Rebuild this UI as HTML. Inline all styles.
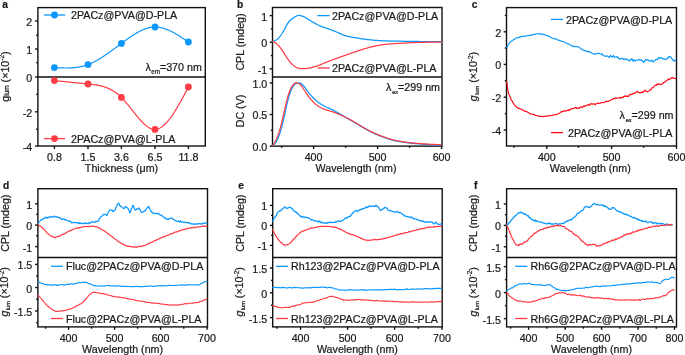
<!DOCTYPE html>
<html><head><meta charset="utf-8"><style>
html,body{margin:0;padding:0;background:#fff;}
body{width:685px;height:355px;overflow:hidden;}
svg{display:block;font-family:"Liberation Sans",sans-serif;fill:#1a1a1a;will-change:transform;filter:blur(0.25px);}
text{stroke:#1a1a1a;stroke-width:0.22px;}
</style></head><body>
<svg width="685" height="355" viewBox="0 0 685 355">
<text x="2.3" y="7.8" font-size="10.2" text-anchor="start" font-weight="bold" >a</text>
<rect x="37.9" y="7.6" width="167.4" height="138.4" fill="none" stroke="#111" stroke-width="1.4"/>
<line x1="37.9" y1="77" x2="205.3" y2="77" stroke="#111" stroke-width="1.4"/>
<line x1="35.1" y1="21" x2="37.9" y2="21" stroke="#111" stroke-width="1.4"/>
<line x1="35.1" y1="49" x2="37.9" y2="49" stroke="#111" stroke-width="1.4"/>
<line x1="35.1" y1="77" x2="37.9" y2="77" stroke="#111" stroke-width="1.4"/>
<line x1="35.1" y1="111.8" x2="37.9" y2="111.8" stroke="#111" stroke-width="1.4"/>
<line x1="35.1" y1="146" x2="37.9" y2="146" stroke="#111" stroke-width="1.4"/>
<line x1="36.199999999999996" y1="35.2" x2="37.9" y2="35.2" stroke="#111" stroke-width="1.4"/>
<line x1="36.199999999999996" y1="62.6" x2="37.9" y2="62.6" stroke="#111" stroke-width="1.4"/>
<line x1="36.199999999999996" y1="94.4" x2="37.9" y2="94.4" stroke="#111" stroke-width="1.4"/>
<line x1="36.199999999999996" y1="129.3" x2="37.9" y2="129.3" stroke="#111" stroke-width="1.4"/>
<text x="32.3" y="25.9" font-size="10.7" text-anchor="end" font-weight="normal" >2</text>
<text x="32.3" y="53.9" font-size="10.7" text-anchor="end" font-weight="normal" >1</text>
<text x="32.3" y="81.9" font-size="10.7" text-anchor="end" font-weight="normal" >0</text>
<text x="32.3" y="116.7" font-size="10.7" text-anchor="end" font-weight="normal" >-2</text>
<text x="32.3" y="150.9" font-size="10.7" text-anchor="end" font-weight="normal" >-4</text>
<line x1="54.4" y1="146" x2="54.4" y2="148.9" stroke="#111" stroke-width="1.4"/>
<line x1="88" y1="146" x2="88" y2="148.9" stroke="#111" stroke-width="1.4"/>
<line x1="121.4" y1="146" x2="121.4" y2="148.9" stroke="#111" stroke-width="1.4"/>
<line x1="155" y1="146" x2="155" y2="148.9" stroke="#111" stroke-width="1.4"/>
<line x1="188.4" y1="146" x2="188.4" y2="148.9" stroke="#111" stroke-width="1.4"/>
<text x="54.4" y="161.0" font-size="10.7" text-anchor="middle" font-weight="normal" >0.8</text>
<text x="88" y="161.0" font-size="10.7" text-anchor="middle" font-weight="normal" >1.5</text>
<text x="121.4" y="161.0" font-size="10.7" text-anchor="middle" font-weight="normal" >3.6</text>
<text x="155" y="161.0" font-size="10.7" text-anchor="middle" font-weight="normal" >6.5</text>
<text x="188.4" y="161.0" font-size="10.7" text-anchor="middle" font-weight="normal" >11.8</text>
<text x="121.5" y="171.5" font-size="10.7" text-anchor="middle" font-weight="normal" >Thickness (μm)</text>
<text transform="translate(4.6,76.6) rotate(-90)" font-size="10.7" text-anchor="middle" dominant-baseline="central">g<tspan font-size="6.5" dy="1.5">lum</tspan><tspan dy="-1.5"> (×10</tspan><tspan font-size="6.5" dy="-3.5">-2</tspan><tspan dy="3.5">)</tspan></text>
<path d="M54.40,67.60 L54.90,67.63 L55.40,67.65 L55.90,67.68 L56.40,67.70 L56.90,67.73 L57.40,67.75 L57.90,67.77 L58.40,67.80 L58.90,67.82 L59.40,67.84 L59.90,67.86 L60.40,67.88 L60.90,67.90 L61.40,67.91 L61.90,67.93 L62.40,67.94 L62.90,67.96 L63.40,67.97 L63.90,67.98 L64.40,67.98 L64.90,67.99 L65.40,67.99 L65.90,68.00 L66.40,68.00 L66.90,67.99 L67.40,67.99 L67.90,67.98 L68.40,67.97 L68.90,67.96 L69.40,67.94 L69.90,67.93 L70.40,67.91 L70.90,67.88 L71.40,67.86 L71.90,67.83 L72.40,67.79 L72.90,67.76 L73.40,67.72 L73.90,67.67 L74.40,67.62 L74.90,67.57 L75.40,67.52 L75.90,67.46 L76.40,67.40 L76.90,67.33 L77.40,67.26 L77.90,67.18 L78.40,67.10 L78.90,67.02 L79.40,66.93 L79.90,66.84 L80.40,66.74 L80.90,66.64 L81.40,66.53 L81.90,66.42 L82.40,66.30 L82.90,66.18 L83.40,66.05 L83.90,65.91 L84.40,65.77 L84.90,65.63 L85.40,65.48 L85.90,65.32 L86.40,65.16 L86.90,64.99 L87.40,64.82 L87.90,64.64 L88.40,64.45 L88.90,64.26 L89.40,64.06 L89.90,63.85 L90.40,63.64 L90.90,63.43 L91.40,63.20 L91.90,62.98 L92.40,62.74 L92.90,62.50 L93.40,62.26 L93.90,62.01 L94.40,61.76 L94.90,61.50 L95.40,61.24 L95.90,60.97 L96.40,60.69 L96.90,60.42 L97.40,60.13 L97.90,59.85 L98.40,59.56 L98.90,59.26 L99.40,58.96 L99.90,58.66 L100.40,58.35 L100.90,58.04 L101.40,57.73 L101.90,57.41 L102.40,57.09 L102.90,56.77 L103.40,56.44 L103.90,56.11 L104.40,55.78 L104.90,55.44 L105.40,55.10 L105.90,54.76 L106.40,54.42 L106.90,54.07 L107.40,53.72 L107.90,53.37 L108.40,53.02 L108.90,52.66 L109.40,52.30 L109.90,51.94 L110.40,51.58 L110.90,51.22 L111.40,50.85 L111.90,50.49 L112.40,50.12 L112.90,49.75 L113.40,49.38 L113.90,49.01 L114.40,48.64 L114.90,48.27 L115.40,47.90 L115.90,47.52 L116.40,47.15 L116.90,46.77 L117.40,46.40 L117.90,46.02 L118.40,45.65 L118.90,45.27 L119.40,44.90 L119.90,44.52 L120.40,44.15 L120.90,43.77 L121.40,43.40 L121.90,43.03 L122.40,42.65 L122.90,42.28 L123.40,41.91 L123.90,41.54 L124.40,41.18 L124.90,40.81 L125.40,40.44 L125.90,40.08 L126.40,39.72 L126.90,39.36 L127.40,39.00 L127.90,38.65 L128.40,38.30 L128.90,37.95 L129.40,37.60 L129.90,37.26 L130.40,36.92 L130.90,36.58 L131.40,36.25 L131.90,35.91 L132.40,35.59 L132.90,35.26 L133.40,34.95 L133.90,34.63 L134.40,34.32 L134.90,34.01 L135.40,33.71 L135.90,33.41 L136.40,33.12 L136.90,32.83 L137.40,32.55 L137.90,32.27 L138.40,32.00 L138.90,31.74 L139.40,31.48 L139.90,31.22 L140.40,30.97 L140.90,30.73 L141.40,30.49 L141.90,30.26 L142.40,30.04 L142.90,29.82 L143.40,29.61 L143.90,29.41 L144.40,29.21 L144.90,29.02 L145.40,28.84 L145.90,28.67 L146.40,28.50 L146.90,28.35 L147.40,28.20 L147.90,28.05 L148.40,27.92 L148.90,27.79 L149.40,27.68 L149.90,27.57 L150.40,27.47 L150.90,27.38 L151.40,27.30 L151.90,27.23 L152.40,27.17 L152.90,27.11 L153.40,27.07 L153.90,27.04 L154.40,27.01 L154.90,27.00 L155.40,27.00 L155.90,27.01 L156.40,27.02 L156.90,27.05 L157.40,27.09 L157.90,27.14 L158.40,27.19 L158.90,27.26 L159.40,27.33 L159.90,27.42 L160.40,27.51 L160.90,27.61 L161.40,27.72 L161.90,27.84 L162.40,27.97 L162.90,28.10 L163.40,28.24 L163.90,28.39 L164.40,28.55 L164.90,28.71 L165.40,28.89 L165.90,29.07 L166.40,29.25 L166.90,29.45 L167.40,29.65 L167.90,29.85 L168.40,30.06 L168.90,30.28 L169.40,30.51 L169.90,30.74 L170.40,30.98 L170.90,31.22 L171.40,31.47 L171.90,31.72 L172.40,31.98 L172.90,32.24 L173.40,32.51 L173.90,32.78 L174.40,33.06 L174.90,33.34 L175.40,33.62 L175.90,33.91 L176.40,34.20 L176.90,34.50 L177.40,34.80 L177.90,35.11 L178.40,35.41 L178.90,35.72 L179.40,36.04 L179.90,36.35 L180.40,36.67 L180.90,36.99 L181.40,37.32 L181.90,37.64 L182.40,37.97 L182.90,38.30 L183.40,38.63 L183.90,38.96 L184.40,39.30 L184.90,39.63 L185.40,39.97 L185.90,40.30 L186.40,40.64 L186.90,40.98 L187.40,41.32 L187.90,41.66 L188.40,42.00" fill="none" stroke="#0a97fd" stroke-width="1.2" stroke-linejoin="round" stroke-linecap="round"/>
<path d="M54.40,80.60 L54.90,80.65 L55.40,80.70 L55.90,80.75 L56.40,80.80 L56.90,80.85 L57.40,80.90 L57.90,80.95 L58.40,81.00 L58.90,81.05 L59.40,81.10 L59.90,81.15 L60.40,81.20 L60.90,81.25 L61.40,81.30 L61.90,81.35 L62.40,81.40 L62.90,81.45 L63.40,81.50 L63.90,81.55 L64.40,81.60 L64.90,81.65 L65.40,81.70 L65.90,81.75 L66.40,81.80 L66.90,81.85 L67.40,81.90 L67.90,81.95 L68.40,82.00 L68.90,82.05 L69.40,82.10 L69.90,82.15 L70.40,82.20 L70.90,82.25 L71.40,82.30 L71.90,82.35 L72.40,82.40 L72.90,82.45 L73.40,82.50 L73.90,82.56 L74.40,82.61 L74.90,82.66 L75.40,82.71 L75.90,82.76 L76.40,82.81 L76.90,82.86 L77.40,82.91 L77.90,82.96 L78.40,83.01 L78.90,83.06 L79.40,83.11 L79.90,83.17 L80.40,83.22 L80.90,83.27 L81.40,83.32 L81.90,83.37 L82.40,83.42 L82.90,83.47 L83.40,83.52 L83.90,83.58 L84.40,83.63 L84.90,83.68 L85.40,83.73 L85.90,83.78 L86.40,83.83 L86.90,83.89 L87.40,83.94 L87.90,83.99 L88.40,84.04 L88.90,84.09 L89.40,84.15 L89.90,84.20 L90.40,84.25 L90.90,84.31 L91.40,84.37 L91.90,84.42 L92.40,84.48 L92.90,84.54 L93.40,84.61 L93.90,84.67 L94.40,84.74 L94.90,84.81 L95.40,84.88 L95.90,84.96 L96.40,85.04 L96.90,85.12 L97.40,85.21 L97.90,85.30 L98.40,85.39 L98.90,85.49 L99.40,85.59 L99.90,85.70 L100.40,85.81 L100.90,85.93 L101.40,86.05 L101.90,86.18 L102.40,86.31 L102.90,86.45 L103.40,86.59 L103.90,86.74 L104.40,86.90 L104.90,87.06 L105.40,87.23 L105.90,87.41 L106.40,87.59 L106.90,87.78 L107.40,87.98 L107.90,88.19 L108.40,88.40 L108.90,88.63 L109.40,88.86 L109.90,89.10 L110.40,89.34 L110.90,89.60 L111.40,89.87 L111.90,90.14 L112.40,90.43 L112.90,90.72 L113.40,91.03 L113.90,91.34 L114.40,91.67 L114.90,92.00 L115.40,92.35 L115.90,92.70 L116.40,93.07 L116.90,93.45 L117.40,93.84 L117.90,94.24 L118.40,94.66 L118.90,95.08 L119.40,95.52 L119.90,95.97 L120.40,96.43 L120.90,96.91 L121.40,97.40 L121.90,97.90 L122.40,98.42 L122.90,98.94 L123.40,99.48 L123.90,100.03 L124.40,100.59 L124.90,101.16 L125.40,101.74 L125.90,102.32 L126.40,102.92 L126.90,103.52 L127.40,104.12 L127.90,104.74 L128.40,105.35 L128.90,105.98 L129.40,106.60 L129.90,107.23 L130.40,107.87 L130.90,108.50 L131.40,109.14 L131.90,109.77 L132.40,110.41 L132.90,111.05 L133.40,111.69 L133.90,112.32 L134.40,112.95 L134.90,113.58 L135.40,114.21 L135.90,114.83 L136.40,115.45 L136.90,116.06 L137.40,116.67 L137.90,117.27 L138.40,117.86 L138.90,118.45 L139.40,119.02 L139.90,119.59 L140.40,120.15 L140.90,120.70 L141.40,121.23 L141.90,121.76 L142.40,122.27 L142.90,122.77 L143.40,123.26 L143.90,123.74 L144.40,124.20 L144.90,124.64 L145.40,125.07 L145.90,125.48 L146.40,125.88 L146.90,126.25 L147.40,126.61 L147.90,126.95 L148.40,127.27 L148.90,127.58 L149.40,127.86 L149.90,128.12 L150.40,128.35 L150.90,128.57 L151.40,128.76 L151.90,128.93 L152.40,129.07 L152.90,129.19 L153.40,129.28 L153.90,129.35 L154.40,129.39 L154.90,129.40 L155.40,129.39 L155.90,129.34 L156.40,129.27 L156.90,129.17 L157.40,129.05 L157.90,128.90 L158.40,128.72 L158.90,128.52 L159.40,128.29 L159.90,128.04 L160.40,127.77 L160.90,127.47 L161.40,127.15 L161.90,126.80 L162.40,126.44 L162.90,126.05 L163.40,125.64 L163.90,125.20 L164.40,124.75 L164.90,124.28 L165.40,123.79 L165.90,123.28 L166.40,122.75 L166.90,122.20 L167.40,121.63 L167.90,121.04 L168.40,120.44 L168.90,119.82 L169.40,119.19 L169.90,118.53 L170.40,117.87 L170.90,117.18 L171.40,116.49 L171.90,115.77 L172.40,115.05 L172.90,114.31 L173.40,113.56 L173.90,112.79 L174.40,112.02 L174.90,111.23 L175.40,110.43 L175.90,109.61 L176.40,108.79 L176.90,107.96 L177.40,107.12 L177.90,106.27 L178.40,105.41 L178.90,104.54 L179.40,103.66 L179.90,102.78 L180.40,101.89 L180.90,100.99 L181.40,100.09 L181.90,99.18 L182.40,98.26 L182.90,97.34 L183.40,96.42 L183.90,95.49 L184.40,94.55 L184.90,93.62 L185.40,92.68 L185.90,91.73 L186.40,90.79 L186.90,89.84 L187.40,88.90 L187.90,87.95 L188.40,87.00" fill="none" stroke="#ff3b44" stroke-width="1.2" stroke-linejoin="round" stroke-linecap="round"/>
<circle cx="54.4" cy="67.6" r="3.4" fill="#0a97fd"/>
<circle cx="88" cy="64.6" r="3.4" fill="#0a97fd"/>
<circle cx="121.4" cy="43.4" r="3.4" fill="#0a97fd"/>
<circle cx="155" cy="27" r="3.4" fill="#0a97fd"/>
<circle cx="188.4" cy="42" r="3.4" fill="#0a97fd"/>
<circle cx="54.4" cy="80.6" r="3.4" fill="#ff3b44"/>
<circle cx="88" cy="84" r="3.4" fill="#ff3b44"/>
<circle cx="121.4" cy="97.4" r="3.4" fill="#ff3b44"/>
<circle cx="155" cy="129.4" r="3.4" fill="#ff3b44"/>
<circle cx="188.4" cy="87" r="3.4" fill="#ff3b44"/>
<line x1="43.9" y1="15" x2="65.1" y2="15" stroke="#0a97fd" stroke-width="1.3"/>
<circle cx="54.5" cy="15" r="3.4" fill="#0a97fd"/>
<text x="71" y="19.3" font-size="10.7" text-anchor="start" font-weight="normal" >2PACz@PVA@D-PLA</text>
<line x1="43.9" y1="138.6" x2="65.1" y2="138.6" stroke="#ff3b44" stroke-width="1.3"/>
<circle cx="54.5" cy="138.6" r="3.4" fill="#ff3b44"/>
<text x="71" y="142.9" font-size="10.7" text-anchor="start" font-weight="normal" >2PACz@PVA@L-PLA</text>
<text x="201.8" y="71.0" font-size="10.7" text-anchor="end" font-weight="normal" >λ<tspan font-size="6.3" dy="3.1" dx="0.3">em</tspan><tspan dy="-3.1">=370 nm</tspan></text>
<text x="237.0" y="7.8" font-size="10.2" text-anchor="start" font-weight="bold" >b</text>
<rect x="272.5" y="7.5" width="169.5" height="138.6" fill="none" stroke="#111" stroke-width="1.4"/>
<line x1="272.5" y1="77" x2="442" y2="77" stroke="#111" stroke-width="1.4"/>
<line x1="269.7" y1="15.6" x2="272.5" y2="15.6" stroke="#111" stroke-width="1.4"/>
<line x1="269.7" y1="42.2" x2="272.5" y2="42.2" stroke="#111" stroke-width="1.4"/>
<line x1="269.7" y1="68.8" x2="272.5" y2="68.8" stroke="#111" stroke-width="1.4"/>
<line x1="269.7" y1="83" x2="272.5" y2="83" stroke="#111" stroke-width="1.4"/>
<line x1="269.7" y1="114.5" x2="272.5" y2="114.5" stroke="#111" stroke-width="1.4"/>
<line x1="269.7" y1="146.1" x2="272.5" y2="146.1" stroke="#111" stroke-width="1.4"/>
<line x1="270.8" y1="28.9" x2="272.5" y2="28.9" stroke="#111" stroke-width="1.4"/>
<line x1="270.8" y1="55.5" x2="272.5" y2="55.5" stroke="#111" stroke-width="1.4"/>
<line x1="270.8" y1="98.7" x2="272.5" y2="98.7" stroke="#111" stroke-width="1.4"/>
<line x1="270.8" y1="130.3" x2="272.5" y2="130.3" stroke="#111" stroke-width="1.4"/>
<text x="267.3" y="20.5" font-size="10.7" text-anchor="end" font-weight="normal" >1</text>
<text x="267.3" y="47.1" font-size="10.7" text-anchor="end" font-weight="normal" >0</text>
<text x="267.3" y="73.7" font-size="10.7" text-anchor="end" font-weight="normal" >-1</text>
<text x="267.3" y="87.9" font-size="10.7" text-anchor="end" font-weight="normal" >1.0</text>
<text x="267.3" y="119.4" font-size="10.7" text-anchor="end" font-weight="normal" >0.5</text>
<text x="267.3" y="151.0" font-size="10.7" text-anchor="end" font-weight="normal" >0.0</text>
<line x1="313.6" y1="146.1" x2="313.6" y2="149.0" stroke="#111" stroke-width="1.4"/>
<line x1="377.6" y1="146.1" x2="377.6" y2="149.0" stroke="#111" stroke-width="1.4"/>
<line x1="441.6" y1="146.1" x2="441.6" y2="149.0" stroke="#111" stroke-width="1.4"/>
<line x1="281.6" y1="146.1" x2="281.6" y2="147.9" stroke="#111" stroke-width="1.4"/>
<line x1="345.6" y1="146.1" x2="345.6" y2="147.9" stroke="#111" stroke-width="1.4"/>
<line x1="409.6" y1="146.1" x2="409.6" y2="147.9" stroke="#111" stroke-width="1.4"/>
<text x="313.6" y="161.1" font-size="10.7" text-anchor="middle" font-weight="normal" >400</text>
<text x="377.6" y="161.1" font-size="10.7" text-anchor="middle" font-weight="normal" >500</text>
<text x="441.6" y="161.1" font-size="10.7" text-anchor="middle" font-weight="normal" >600</text>
<text x="356" y="172.2" font-size="10.7" text-anchor="middle" font-weight="normal" >Wavelength (nm)</text>
<text transform="translate(239.8,42) rotate(-90)" font-size="10.7" text-anchor="middle" dominant-baseline="central">CPL (mdeg)</text>
<text transform="translate(239.8,111) rotate(-90)" font-size="10.7" text-anchor="middle" dominant-baseline="central">DC (V)</text>
<path d="M272.60,41.60 L273.10,41.43 L273.60,41.23 L274.10,41.02 L274.60,40.79 L275.10,40.55 L275.60,40.29 L276.10,40.02 L276.60,39.71 L277.10,39.37 L277.60,38.99 L278.10,38.55 L278.60,38.06 L279.10,37.53 L279.60,36.97 L280.10,36.38 L280.60,35.73 L281.10,35.02 L281.60,34.27 L282.10,33.48 L282.60,32.67 L283.10,31.81 L283.60,30.90 L284.10,29.97 L284.60,29.03 L285.10,28.12 L285.60,27.18 L286.10,26.23 L286.60,25.29 L287.10,24.40 L287.60,23.60 L288.10,22.86 L288.60,22.15 L289.10,21.50 L289.60,20.91 L290.10,20.41 L290.60,19.97 L291.10,19.58 L291.60,19.22 L292.10,18.88 L292.60,18.54 L293.10,18.19 L293.60,17.82 L294.10,17.46 L294.60,17.11 L295.10,16.79 L295.60,16.50 L296.10,16.25 L296.60,16.02 L297.10,15.79 L297.60,15.59 L298.10,15.45 L298.60,15.40 L299.10,15.42 L299.60,15.48 L300.10,15.58 L300.60,15.69 L301.10,15.80 L301.60,15.92 L302.10,16.06 L302.60,16.22 L303.10,16.40 L303.60,16.60 L304.10,16.81 L304.60,17.04 L305.10,17.31 L305.60,17.62 L306.10,17.94 L306.60,18.28 L307.10,18.62 L307.60,18.95 L308.10,19.26 L308.60,19.57 L309.10,19.87 L309.60,20.18 L310.10,20.48 L310.60,20.78 L311.10,21.08 L311.60,21.38 L312.10,21.68 L312.60,21.97 L313.10,22.26 L313.60,22.54 L314.10,22.82 L314.60,23.10 L315.10,23.38 L315.60,23.65 L316.10,23.92 L316.60,24.18 L317.10,24.44 L317.60,24.70 L318.10,24.95 L318.60,25.20 L319.10,25.45 L319.60,25.69 L320.10,25.93 L320.60,26.17 L321.10,26.39 L321.60,26.60 L322.10,26.79 L322.60,26.96 L323.10,27.12 L323.60,27.27 L324.10,27.42 L324.60,27.57 L325.10,27.73 L325.60,27.90 L326.10,28.07 L326.60,28.24 L327.10,28.42 L327.60,28.60 L328.10,28.77 L328.60,28.95 L329.10,29.13 L329.60,29.32 L330.10,29.50 L330.60,29.68 L331.10,29.87 L331.60,30.05 L332.10,30.24 L332.60,30.42 L333.10,30.61 L333.60,30.80 L334.10,30.99 L334.60,31.18 L335.10,31.38 L335.60,31.58 L336.10,31.79 L336.60,32.00 L337.10,32.23 L337.60,32.46 L338.10,32.69 L338.60,32.93 L339.10,33.16 L339.60,33.40 L340.10,33.64 L340.60,33.87 L341.10,34.10 L341.60,34.33 L342.10,34.55 L342.60,34.76 L343.10,34.96 L343.60,35.15 L344.10,35.33 L344.60,35.49 L345.10,35.64 L345.60,35.78 L346.10,35.91 L346.60,36.04 L347.10,36.16 L347.60,36.28 L348.10,36.40 L348.60,36.51 L349.10,36.62 L349.60,36.73 L350.10,36.83 L350.60,36.93 L351.10,37.03 L351.60,37.12 L352.10,37.21 L352.60,37.30 L353.10,37.39 L353.60,37.48 L354.10,37.57 L354.60,37.65 L355.10,37.73 L355.60,37.81 L356.10,37.90 L356.60,37.98 L357.10,38.06 L357.60,38.14 L358.10,38.22 L358.60,38.30 L359.10,38.37 L359.60,38.45 L360.10,38.53 L360.60,38.61 L361.10,38.68 L361.60,38.76 L362.10,38.83 L362.60,38.91 L363.10,38.98 L363.60,39.05 L364.10,39.12 L364.60,39.19 L365.10,39.26 L365.60,39.32 L366.10,39.39 L366.60,39.45 L367.10,39.51 L367.60,39.57 L368.10,39.63 L368.60,39.69 L369.10,39.74 L369.60,39.79 L370.10,39.84 L370.60,39.89 L371.10,39.94 L371.60,39.98 L372.10,40.03 L372.60,40.07 L373.10,40.12 L373.60,40.16 L374.10,40.20 L374.60,40.25 L375.10,40.29 L375.60,40.33 L376.10,40.37 L376.60,40.41 L377.10,40.44 L377.60,40.48 L378.10,40.51 L378.60,40.55 L379.10,40.58 L379.60,40.61 L380.10,40.64 L380.60,40.67 L381.10,40.70 L381.60,40.72 L382.10,40.75 L382.60,40.77 L383.10,40.79 L383.60,40.81 L384.10,40.83 L384.60,40.84 L385.10,40.86 L385.60,40.88 L386.10,40.89 L386.60,40.91 L387.10,40.92 L387.60,40.94 L388.10,40.95 L388.60,40.96 L389.10,40.98 L389.60,40.99 L390.10,41.00 L390.60,41.01 L391.10,41.02 L391.60,41.04 L392.10,41.05 L392.60,41.06 L393.10,41.07 L393.60,41.08 L394.10,41.09 L394.60,41.10 L395.10,41.11 L395.60,41.12 L396.10,41.13 L396.60,41.14 L397.10,41.15 L397.60,41.16 L398.10,41.16 L398.60,41.17 L399.10,41.18 L399.60,41.19 L400.10,41.20 L400.60,41.21 L401.10,41.22 L401.60,41.23 L402.10,41.24 L402.60,41.25 L403.10,41.26 L403.60,41.27 L404.10,41.28 L404.60,41.29 L405.10,41.29 L405.60,41.30 L406.10,41.31 L406.60,41.32 L407.10,41.33 L407.60,41.34 L408.10,41.35 L408.60,41.36 L409.10,41.36 L409.60,41.37 L410.10,41.38 L410.60,41.39 L411.10,41.40 L411.60,41.40 L412.10,41.41 L412.60,41.42 L413.10,41.43 L413.60,41.43 L414.10,41.44 L414.60,41.45 L415.10,41.45 L415.60,41.46 L416.10,41.46 L416.60,41.47 L417.10,41.47 L417.60,41.48 L418.10,41.48 L418.60,41.49 L419.10,41.49 L419.60,41.50 L420.10,41.50 L420.60,41.50 L421.10,41.51 L421.60,41.51 L422.10,41.51 L422.60,41.52 L423.10,41.52 L423.60,41.52 L424.10,41.53 L424.60,41.53 L425.10,41.53 L425.60,41.54 L426.10,41.54 L426.60,41.54 L427.10,41.55 L427.60,41.55 L428.10,41.55 L428.60,41.56 L429.10,41.56 L429.60,41.56 L430.10,41.56 L430.60,41.57 L431.10,41.57 L431.60,41.57 L432.10,41.57 L432.60,41.58 L433.10,41.58 L433.60,41.58 L434.10,41.58 L434.60,41.59 L435.10,41.59 L435.60,41.59 L436.10,41.59 L436.60,41.59 L437.10,41.59 L437.60,41.59 L438.10,41.60 L438.60,41.60 L439.10,41.60 L439.60,41.60 L440.10,41.60 L440.60,41.60 L441.10,41.60 L441.60,41.60" fill="none" stroke="#0a97fd" stroke-width="1.25" stroke-linejoin="round" stroke-linecap="round"/>
<path d="M272.60,41.60 L273.10,41.74 L273.60,41.93 L274.10,42.15 L274.60,42.39 L275.10,42.66 L275.60,42.97 L276.10,43.33 L276.60,43.73 L277.10,44.16 L277.60,44.62 L278.10,45.12 L278.60,45.66 L279.10,46.22 L279.60,46.82 L280.10,47.44 L280.60,48.08 L281.10,48.74 L281.60,49.41 L282.10,50.09 L282.60,50.78 L283.10,51.52 L283.60,52.31 L284.10,53.13 L284.60,53.98 L285.10,54.83 L285.60,55.69 L286.10,56.52 L286.60,57.33 L287.10,58.09 L287.60,58.80 L288.10,59.48 L288.60,60.15 L289.10,60.81 L289.60,61.46 L290.10,62.09 L290.60,62.70 L291.10,63.27 L291.60,63.80 L292.10,64.29 L292.60,64.74 L293.10,65.14 L293.60,65.52 L294.10,65.90 L294.60,66.26 L295.10,66.60 L295.60,66.92 L296.10,67.21 L296.60,67.47 L297.10,67.70 L297.60,67.88 L298.10,68.03 L298.60,68.15 L299.10,68.27 L299.60,68.38 L300.10,68.48 L300.60,68.57 L301.10,68.64 L301.60,68.68 L302.10,68.70 L302.60,68.70 L303.10,68.69 L303.60,68.67 L304.10,68.64 L304.60,68.61 L305.10,68.57 L305.60,68.52 L306.10,68.47 L306.60,68.42 L307.10,68.36 L307.60,68.31 L308.10,68.25 L308.60,68.19 L309.10,68.12 L309.60,68.03 L310.10,67.93 L310.60,67.82 L311.10,67.70 L311.60,67.57 L312.10,67.44 L312.60,67.30 L313.10,67.16 L313.60,67.03 L314.10,66.89 L314.60,66.75 L315.10,66.59 L315.60,66.44 L316.10,66.28 L316.60,66.11 L317.10,65.94 L317.60,65.77 L318.10,65.59 L318.60,65.41 L319.10,65.23 L319.60,65.04 L320.10,64.84 L320.60,64.63 L321.10,64.42 L321.60,64.21 L322.10,64.00 L322.60,63.78 L323.10,63.57 L323.60,63.36 L324.10,63.16 L324.60,62.96 L325.10,62.76 L325.60,62.56 L326.10,62.36 L326.60,62.16 L327.10,61.96 L327.60,61.76 L328.10,61.57 L328.60,61.37 L329.10,61.18 L329.60,60.98 L330.10,60.79 L330.60,60.60 L331.10,60.40 L331.60,60.21 L332.10,60.03 L332.60,59.84 L333.10,59.65 L333.60,59.46 L334.10,59.28 L334.60,59.10 L335.10,58.91 L335.60,58.73 L336.10,58.55 L336.60,58.37 L337.10,58.19 L337.60,58.01 L338.10,57.83 L338.60,57.66 L339.10,57.48 L339.60,57.30 L340.10,57.13 L340.60,56.95 L341.10,56.77 L341.60,56.60 L342.10,56.42 L342.60,56.25 L343.10,56.07 L343.60,55.90 L344.10,55.72 L344.60,55.55 L345.10,55.37 L345.60,55.19 L346.10,55.02 L346.60,54.84 L347.10,54.66 L347.60,54.49 L348.10,54.31 L348.60,54.13 L349.10,53.95 L349.60,53.78 L350.10,53.60 L350.60,53.42 L351.10,53.25 L351.60,53.07 L352.10,52.89 L352.60,52.72 L353.10,52.54 L353.60,52.37 L354.10,52.20 L354.60,52.03 L355.10,51.86 L355.60,51.69 L356.10,51.52 L356.60,51.36 L357.10,51.19 L357.60,51.03 L358.10,50.87 L358.60,50.71 L359.10,50.55 L359.60,50.38 L360.10,50.22 L360.60,50.06 L361.10,49.90 L361.60,49.74 L362.10,49.58 L362.60,49.42 L363.10,49.26 L363.60,49.10 L364.10,48.94 L364.60,48.79 L365.10,48.64 L365.60,48.49 L366.10,48.34 L366.60,48.19 L367.10,48.05 L367.60,47.91 L368.10,47.77 L368.60,47.63 L369.10,47.50 L369.60,47.37 L370.10,47.25 L370.60,47.12 L371.10,47.01 L371.60,46.89 L372.10,46.77 L372.60,46.65 L373.10,46.53 L373.60,46.42 L374.10,46.30 L374.60,46.19 L375.10,46.08 L375.60,45.96 L376.10,45.86 L376.60,45.75 L377.10,45.64 L377.60,45.54 L378.10,45.44 L378.60,45.35 L379.10,45.25 L379.60,45.16 L380.10,45.07 L380.60,44.99 L381.10,44.91 L381.60,44.84 L382.10,44.76 L382.60,44.70 L383.10,44.64 L383.60,44.58 L384.10,44.52 L384.60,44.47 L385.10,44.41 L385.60,44.36 L386.10,44.31 L386.60,44.26 L387.10,44.22 L387.60,44.17 L388.10,44.13 L388.60,44.08 L389.10,44.04 L389.60,44.00 L390.10,43.96 L390.60,43.92 L391.10,43.88 L391.60,43.84 L392.10,43.80 L392.60,43.77 L393.10,43.73 L393.60,43.70 L394.10,43.66 L394.60,43.63 L395.10,43.60 L395.60,43.56 L396.10,43.53 L396.60,43.50 L397.10,43.47 L397.60,43.44 L398.10,43.41 L398.60,43.38 L399.10,43.35 L399.60,43.32 L400.10,43.29 L400.60,43.27 L401.10,43.24 L401.60,43.21 L402.10,43.18 L402.60,43.15 L403.10,43.12 L403.60,43.10 L404.10,43.07 L404.60,43.04 L405.10,43.02 L405.60,42.99 L406.10,42.96 L406.60,42.94 L407.10,42.91 L407.60,42.89 L408.10,42.86 L408.60,42.84 L409.10,42.81 L409.60,42.79 L410.10,42.77 L410.60,42.74 L411.10,42.72 L411.60,42.70 L412.10,42.68 L412.60,42.66 L413.10,42.63 L413.60,42.61 L414.10,42.59 L414.60,42.58 L415.10,42.56 L415.60,42.54 L416.10,42.52 L416.60,42.50 L417.10,42.49 L417.60,42.47 L418.10,42.45 L418.60,42.44 L419.10,42.42 L419.60,42.41 L420.10,42.40 L420.60,42.38 L421.10,42.37 L421.60,42.36 L422.10,42.35 L422.60,42.33 L423.10,42.32 L423.60,42.31 L424.10,42.30 L424.60,42.28 L425.10,42.27 L425.60,42.26 L426.10,42.25 L426.60,42.24 L427.10,42.22 L427.60,42.21 L428.10,42.20 L428.60,42.19 L429.10,42.18 L429.60,42.17 L430.10,42.16 L430.60,42.15 L431.10,42.14 L431.60,42.13 L432.10,42.12 L432.60,42.11 L433.10,42.10 L433.60,42.09 L434.10,42.08 L434.60,42.08 L435.10,42.07 L435.60,42.06 L436.10,42.05 L436.60,42.05 L437.10,42.04 L437.60,42.03 L438.10,42.03 L438.60,42.02 L439.10,42.02 L439.60,42.02 L440.10,42.01 L440.60,42.01 L441.10,42.00 L441.60,42.00" fill="none" stroke="#ff3b44" stroke-width="1.25" stroke-linejoin="round" stroke-linecap="round"/>
<path d="M272.60,145.60 L273.10,145.28 L273.60,144.86 L274.10,144.37 L274.60,143.81 L275.10,143.19 L275.60,142.52 L276.10,141.81 L276.60,140.99 L277.10,140.07 L277.60,139.05 L278.10,137.93 L278.60,136.73 L279.10,135.46 L279.60,134.13 L280.10,132.73 L280.60,131.15 L281.10,129.40 L281.60,127.52 L282.10,125.53 L282.60,123.48 L283.10,121.40 L283.60,119.32 L284.10,117.24 L284.60,115.01 L285.10,112.68 L285.60,110.30 L286.10,107.93 L286.60,105.63 L287.10,103.45 L287.60,101.44 L288.10,99.62 L288.60,97.84 L289.10,96.10 L289.60,94.44 L290.10,92.88 L290.60,91.45 L291.10,90.17 L291.60,89.09 L292.10,88.15 L292.60,87.24 L293.10,86.36 L293.60,85.55 L294.10,84.84 L294.60,84.25 L295.10,83.80 L295.60,83.53 L296.10,83.39 L296.60,83.27 L297.10,83.17 L297.60,83.07 L298.10,83.00 L298.60,82.95 L299.10,82.91 L299.60,82.90 L300.10,82.98 L300.60,83.21 L301.10,83.55 L301.60,83.98 L302.10,84.47 L302.60,84.99 L303.10,85.50 L303.60,86.00 L304.10,86.52 L304.60,87.11 L305.10,87.75 L305.60,88.43 L306.10,89.13 L306.60,89.85 L307.10,90.58 L307.60,91.30 L308.10,92.01 L308.60,92.69 L309.10,93.32 L309.60,93.91 L310.10,94.48 L310.60,95.05 L311.10,95.61 L311.60,96.16 L312.10,96.70 L312.60,97.24 L313.10,97.76 L313.60,98.28 L314.10,98.78 L314.60,99.27 L315.10,99.74 L315.60,100.20 L316.10,100.64 L316.60,101.06 L317.10,101.47 L317.60,101.85 L318.10,102.22 L318.60,102.58 L319.10,102.93 L319.60,103.27 L320.10,103.60 L320.60,103.92 L321.10,104.23 L321.60,104.54 L322.10,104.83 L322.60,105.12 L323.10,105.41 L323.60,105.69 L324.10,105.96 L324.60,106.23 L325.10,106.49 L325.60,106.76 L326.10,107.01 L326.60,107.25 L327.10,107.48 L327.60,107.71 L328.10,107.93 L328.60,108.14 L329.10,108.36 L329.60,108.57 L330.10,108.78 L330.60,109.00 L331.10,109.22 L331.60,109.44 L332.10,109.67 L332.60,109.90 L333.10,110.15 L333.60,110.40 L334.10,110.66 L334.60,110.93 L335.10,111.20 L335.60,111.48 L336.10,111.76 L336.60,112.04 L337.10,112.33 L337.60,112.62 L338.10,112.91 L338.60,113.20 L339.10,113.49 L339.60,113.79 L340.10,114.08 L340.60,114.37 L341.10,114.66 L341.60,114.95 L342.10,115.24 L342.60,115.53 L343.10,115.82 L343.60,116.11 L344.10,116.41 L344.60,116.70 L345.10,117.00 L345.60,117.30 L346.10,117.59 L346.60,117.89 L347.10,118.18 L347.60,118.48 L348.10,118.77 L348.60,119.07 L349.10,119.36 L349.60,119.65 L350.10,119.94 L350.60,120.23 L351.10,120.52 L351.60,120.81 L352.10,121.11 L352.60,121.40 L353.10,121.69 L353.60,121.98 L354.10,122.27 L354.60,122.56 L355.10,122.86 L355.60,123.16 L356.10,123.45 L356.60,123.76 L357.10,124.06 L357.60,124.36 L358.10,124.67 L358.60,124.97 L359.10,125.28 L359.60,125.59 L360.10,125.89 L360.60,126.19 L361.10,126.50 L361.60,126.80 L362.10,127.09 L362.60,127.39 L363.10,127.68 L363.60,127.97 L364.10,128.25 L364.60,128.53 L365.10,128.81 L365.60,129.08 L366.10,129.36 L366.60,129.63 L367.10,129.90 L367.60,130.17 L368.10,130.44 L368.60,130.70 L369.10,130.96 L369.60,131.23 L370.10,131.48 L370.60,131.74 L371.10,131.99 L371.60,132.24 L372.10,132.49 L372.60,132.73 L373.10,132.97 L373.60,133.20 L374.10,133.43 L374.60,133.66 L375.10,133.88 L375.60,134.10 L376.10,134.31 L376.60,134.53 L377.10,134.74 L377.60,134.95 L378.10,135.15 L378.60,135.36 L379.10,135.56 L379.60,135.76 L380.10,135.95 L380.60,136.15 L381.10,136.34 L381.60,136.53 L382.10,136.71 L382.60,136.89 L383.10,137.07 L383.60,137.25 L384.10,137.43 L384.60,137.60 L385.10,137.77 L385.60,137.94 L386.10,138.12 L386.60,138.29 L387.10,138.46 L387.60,138.63 L388.10,138.80 L388.60,138.96 L389.10,139.12 L389.60,139.28 L390.10,139.44 L390.60,139.59 L391.10,139.74 L391.60,139.89 L392.10,140.02 L392.60,140.16 L393.10,140.28 L393.60,140.40 L394.10,140.52 L394.60,140.62 L395.10,140.72 L395.60,140.82 L396.10,140.92 L396.60,141.02 L397.10,141.12 L397.60,141.21 L398.10,141.30 L398.60,141.40 L399.10,141.49 L399.60,141.58 L400.10,141.66 L400.60,141.75 L401.10,141.83 L401.60,141.92 L402.10,142.00 L402.60,142.08 L403.10,142.16 L403.60,142.23 L404.10,142.31 L404.60,142.38 L405.10,142.46 L405.60,142.53 L406.10,142.60 L406.60,142.66 L407.10,142.73 L407.60,142.79 L408.10,142.86 L408.60,142.92 L409.10,142.98 L409.60,143.04 L410.10,143.09 L410.60,143.15 L411.10,143.20 L411.60,143.26 L412.10,143.31 L412.60,143.35 L413.10,143.40 L413.60,143.45 L414.10,143.49 L414.60,143.53 L415.10,143.58 L415.60,143.62 L416.10,143.66 L416.60,143.70 L417.10,143.75 L417.60,143.79 L418.10,143.83 L418.60,143.87 L419.10,143.91 L419.60,143.96 L420.10,144.00 L420.60,144.04 L421.10,144.08 L421.60,144.12 L422.10,144.16 L422.60,144.19 L423.10,144.23 L423.60,144.27 L424.10,144.31 L424.60,144.34 L425.10,144.38 L425.60,144.42 L426.10,144.45 L426.60,144.49 L427.10,144.52 L427.60,144.55 L428.10,144.58 L428.60,144.62 L429.10,144.65 L429.60,144.68 L430.10,144.71 L430.60,144.73 L431.10,144.76 L431.60,144.79 L432.10,144.81 L432.60,144.84 L433.10,144.86 L433.60,144.89 L434.10,144.91 L434.60,144.93 L435.10,144.95 L435.60,144.97 L436.10,144.99 L436.60,145.00 L437.10,145.02 L437.60,145.03 L438.10,145.04 L438.60,145.06 L439.10,145.07 L439.60,145.08 L440.10,145.08 L440.60,145.09 L441.10,145.10" fill="none" stroke="#0a97fd" stroke-width="1.25" stroke-linejoin="round" stroke-linecap="round"/>
<path d="M272.60,145.20 L273.10,144.67 L273.60,144.04 L274.10,143.33 L274.60,142.54 L275.10,141.68 L275.60,140.77 L276.10,139.80 L276.60,138.73 L277.10,137.53 L277.60,136.24 L278.10,134.85 L278.60,133.39 L279.10,131.86 L279.60,130.27 L280.10,128.63 L280.60,126.84 L281.10,124.91 L281.60,122.87 L282.10,120.76 L282.60,118.61 L283.10,116.45 L283.60,114.33 L284.10,112.24 L284.60,110.04 L285.10,107.78 L285.60,105.51 L286.10,103.28 L286.60,101.14 L287.10,99.14 L287.60,97.35 L288.10,95.76 L288.60,94.23 L289.10,92.76 L289.60,91.37 L290.10,90.08 L290.60,88.91 L291.10,87.89 L291.60,87.05 L292.10,86.32 L292.60,85.61 L293.10,84.93 L293.60,84.30 L294.10,83.76 L294.60,83.33 L295.10,83.03 L295.60,82.90 L296.10,82.91 L296.60,82.97 L297.10,83.06 L297.60,83.18 L298.10,83.33 L298.60,83.50 L299.10,83.69 L299.60,83.90 L300.10,84.21 L300.60,84.69 L301.10,85.31 L301.60,86.02 L302.10,86.78 L302.60,87.57 L303.10,88.33 L303.60,89.04 L304.10,89.74 L304.60,90.48 L305.10,91.24 L305.60,92.01 L306.10,92.80 L306.60,93.58 L307.10,94.35 L307.60,95.11 L308.10,95.84 L308.60,96.54 L309.10,97.20 L309.60,97.82 L310.10,98.42 L310.60,99.01 L311.10,99.59 L311.60,100.16 L312.10,100.72 L312.60,101.27 L313.10,101.81 L313.60,102.32 L314.10,102.83 L314.60,103.31 L315.10,103.77 L315.60,104.21 L316.10,104.63 L316.60,105.03 L317.10,105.39 L317.60,105.73 L318.10,106.06 L318.60,106.37 L319.10,106.67 L319.60,106.96 L320.10,107.24 L320.60,107.51 L321.10,107.76 L321.60,108.01 L322.10,108.25 L322.60,108.48 L323.10,108.70 L323.60,108.92 L324.10,109.13 L324.60,109.33 L325.10,109.52 L325.60,109.71 L326.10,109.89 L326.60,110.06 L327.10,110.22 L327.60,110.37 L328.10,110.51 L328.60,110.65 L329.10,110.79 L329.60,110.93 L330.10,111.07 L330.60,111.21 L331.10,111.35 L331.60,111.49 L332.10,111.64 L332.60,111.80 L333.10,111.97 L333.60,112.14 L334.10,112.32 L334.60,112.50 L335.10,112.68 L335.60,112.87 L336.10,113.06 L336.60,113.26 L337.10,113.46 L337.60,113.66 L338.10,113.87 L338.60,114.07 L339.10,114.28 L339.60,114.49 L340.10,114.71 L340.60,114.93 L341.10,115.14 L341.60,115.37 L342.10,115.59 L342.60,115.82 L343.10,116.05 L343.60,116.29 L344.10,116.53 L344.60,116.77 L345.10,117.01 L345.60,117.26 L346.10,117.51 L346.60,117.76 L347.10,118.01 L347.60,118.27 L348.10,118.53 L348.60,118.79 L349.10,119.05 L349.60,119.32 L350.10,119.59 L350.60,119.87 L351.10,120.15 L351.60,120.43 L352.10,120.72 L352.60,121.01 L353.10,121.30 L353.60,121.59 L354.10,121.88 L354.60,122.17 L355.10,122.46 L355.60,122.75 L356.10,123.05 L356.60,123.35 L357.10,123.65 L357.60,123.95 L358.10,124.25 L358.60,124.56 L359.10,124.87 L359.60,125.17 L360.10,125.48 L360.60,125.78 L361.10,126.09 L361.60,126.39 L362.10,126.69 L362.60,126.99 L363.10,127.28 L363.60,127.57 L364.10,127.85 L364.60,128.13 L365.10,128.41 L365.60,128.68 L366.10,128.96 L366.60,129.23 L367.10,129.50 L367.60,129.77 L368.10,130.04 L368.60,130.30 L369.10,130.56 L369.60,130.83 L370.10,131.08 L370.60,131.34 L371.10,131.59 L371.60,131.84 L372.10,132.09 L372.60,132.33 L373.10,132.57 L373.60,132.80 L374.10,133.03 L374.60,133.26 L375.10,133.48 L375.60,133.70 L376.10,133.91 L376.60,134.13 L377.10,134.34 L377.60,134.55 L378.10,134.75 L378.60,134.96 L379.10,135.16 L379.60,135.36 L380.10,135.55 L380.60,135.75 L381.10,135.94 L381.60,136.13 L382.10,136.31 L382.60,136.49 L383.10,136.67 L383.60,136.85 L384.10,137.03 L384.60,137.20 L385.10,137.37 L385.60,137.54 L386.10,137.72 L386.60,137.89 L387.10,138.06 L387.60,138.23 L388.10,138.40 L388.60,138.56 L389.10,138.72 L389.60,138.88 L390.10,139.04 L390.60,139.19 L391.10,139.34 L391.60,139.49 L392.10,139.62 L392.60,139.76 L393.10,139.88 L393.60,140.00 L394.10,140.12 L394.60,140.22 L395.10,140.32 L395.60,140.42 L396.10,140.52 L396.60,140.62 L397.10,140.72 L397.60,140.81 L398.10,140.91 L398.60,141.00 L399.10,141.09 L399.60,141.18 L400.10,141.27 L400.60,141.35 L401.10,141.44 L401.60,141.52 L402.10,141.60 L402.60,141.69 L403.10,141.76 L403.60,141.84 L404.10,141.92 L404.60,141.99 L405.10,142.07 L405.60,142.14 L406.10,142.21 L406.60,142.27 L407.10,142.34 L407.60,142.41 L408.10,142.47 L408.60,142.53 L409.10,142.59 L409.60,142.65 L410.10,142.70 L410.60,142.76 L411.10,142.81 L411.60,142.86 L412.10,142.91 L412.60,142.96 L413.10,143.01 L413.60,143.05 L414.10,143.09 L414.60,143.13 L415.10,143.17 L415.60,143.21 L416.10,143.26 L416.60,143.30 L417.10,143.34 L417.60,143.38 L418.10,143.42 L418.60,143.46 L419.10,143.50 L419.60,143.54 L420.10,143.58 L420.60,143.61 L421.10,143.65 L421.60,143.69 L422.10,143.73 L422.60,143.77 L423.10,143.80 L423.60,143.84 L424.10,143.88 L424.60,143.91 L425.10,143.95 L425.60,143.98 L426.10,144.01 L426.60,144.05 L427.10,144.08 L427.60,144.11 L428.10,144.14 L428.60,144.17 L429.10,144.20 L429.60,144.23 L430.10,144.26 L430.60,144.28 L431.10,144.31 L431.60,144.33 L432.10,144.36 L432.60,144.38 L433.10,144.40 L433.60,144.42 L434.10,144.44 L434.60,144.46 L435.10,144.48 L435.60,144.50 L436.10,144.51 L436.60,144.53 L437.10,144.54 L437.60,144.55 L438.10,144.56 L438.60,144.57 L439.10,144.58 L439.60,144.59 L440.10,144.59 L440.60,144.60 L441.10,144.60" fill="none" stroke="#ff3b44" stroke-width="1.25" stroke-linejoin="round" stroke-linecap="round"/>
<line x1="317.4" y1="15.6" x2="329.6" y2="15.6" stroke="#0a97fd" stroke-width="1.3"/>
<text x="332" y="19.9" font-size="10.7" text-anchor="start" font-weight="normal" >2PACz@PVA@D-PLA</text>
<line x1="317.4" y1="68" x2="329.6" y2="68" stroke="#ff3b44" stroke-width="1.3"/>
<text x="332" y="72.2" font-size="10.7" text-anchor="start" font-weight="normal" >2PACz@PVA@L-PLA</text>
<text x="440" y="90.6" font-size="10.7" text-anchor="end" font-weight="normal" >λ<tspan font-size="5.6" dy="3.6" dx="0.8">ex</tspan><tspan dy="-3.6">=299 nm</tspan></text>
<text x="471.8" y="7.8" font-size="10.2" text-anchor="start" font-weight="bold" >c</text>
<rect x="506.5" y="7.6" width="170.0" height="138.4" fill="none" stroke="#111" stroke-width="1.4"/>
<line x1="503.7" y1="31.8" x2="506.5" y2="31.8" stroke="#111" stroke-width="1.4"/>
<line x1="503.7" y1="64.4" x2="506.5" y2="64.4" stroke="#111" stroke-width="1.4"/>
<line x1="503.7" y1="97.2" x2="506.5" y2="97.2" stroke="#111" stroke-width="1.4"/>
<line x1="503.7" y1="130" x2="506.5" y2="130" stroke="#111" stroke-width="1.4"/>
<line x1="504.8" y1="15.4" x2="506.5" y2="15.4" stroke="#111" stroke-width="1.4"/>
<line x1="504.8" y1="48.1" x2="506.5" y2="48.1" stroke="#111" stroke-width="1.4"/>
<line x1="504.8" y1="80.8" x2="506.5" y2="80.8" stroke="#111" stroke-width="1.4"/>
<line x1="504.8" y1="113.6" x2="506.5" y2="113.6" stroke="#111" stroke-width="1.4"/>
<text x="501.3" y="36.7" font-size="10.7" text-anchor="end" font-weight="normal" >2</text>
<text x="501.3" y="69.30000000000001" font-size="10.7" text-anchor="end" font-weight="normal" >0</text>
<text x="501.3" y="102.10000000000001" font-size="10.7" text-anchor="end" font-weight="normal" >-2</text>
<text x="501.3" y="134.9" font-size="10.7" text-anchor="end" font-weight="normal" >-4</text>
<line x1="546.8" y1="146" x2="546.8" y2="148.9" stroke="#111" stroke-width="1.4"/>
<line x1="611.6" y1="146" x2="611.6" y2="148.9" stroke="#111" stroke-width="1.4"/>
<line x1="676.5" y1="146" x2="676.5" y2="148.9" stroke="#111" stroke-width="1.4"/>
<line x1="514" y1="146" x2="514" y2="147.8" stroke="#111" stroke-width="1.4"/>
<line x1="578.4" y1="146" x2="578.4" y2="147.8" stroke="#111" stroke-width="1.4"/>
<line x1="643.6" y1="146" x2="643.6" y2="147.8" stroke="#111" stroke-width="1.4"/>
<text x="546.8" y="161.0" font-size="10.7" text-anchor="middle" font-weight="normal" >400</text>
<text x="611.6" y="161.0" font-size="10.7" text-anchor="middle" font-weight="normal" >500</text>
<text x="676.5" y="161.0" font-size="10.7" text-anchor="middle" font-weight="normal" >600</text>
<text x="590.3" y="172.2" font-size="10.7" text-anchor="middle" font-weight="normal" >Wavelength (nm)</text>
<text transform="translate(473.2,76.5) rotate(-90)" font-size="10.7" text-anchor="middle" dominant-baseline="central"><tspan font-style="italic">g</tspan><tspan font-size="5.6" dy="4.0" dx="0.4">lum</tspan><tspan dy="-4.0"> (×10</tspan><tspan font-size="6.5" dy="-3.5">-2</tspan><tspan dy="3.5">)</tspan></text>
<path d="M506.80,47.50 L507.30,46.65 L507.80,45.72 L508.30,44.68 L508.80,43.86 L509.30,43.12 L509.80,42.57 L510.30,42.43 L510.80,41.88 L511.30,41.12 L511.80,40.91 L512.30,40.73 L512.80,40.34 L513.30,39.81 L513.80,39.50 L514.30,39.52 L514.80,39.04 L515.30,38.61 L515.80,38.29 L516.30,37.94 L516.80,37.75 L517.30,37.75 L517.80,37.68 L518.30,37.61 L518.80,37.70 L519.30,37.47 L519.80,36.86 L520.30,36.66 L520.80,36.97 L521.30,36.96 L521.80,36.57 L522.30,36.35 L522.80,36.34 L523.30,36.17 L523.80,36.43 L524.30,36.33 L524.80,36.04 L525.30,36.24 L525.80,36.05 L526.30,35.79 L526.80,35.82 L527.30,35.77 L527.80,35.44 L528.30,35.37 L528.80,35.75 L529.30,35.38 L529.80,35.21 L530.30,35.42 L530.80,35.04 L531.30,35.25 L531.80,35.36 L532.30,34.66 L532.80,34.39 L533.30,34.56 L533.80,34.38 L534.30,34.27 L534.80,34.18 L535.30,34.07 L535.80,34.26 L536.30,33.97 L536.80,33.72 L537.30,33.76 L537.80,33.76 L538.30,33.65 L538.80,33.56 L539.30,33.78 L539.80,34.09 L540.30,34.38 L540.80,34.06 L541.30,33.78 L541.80,34.21 L542.30,34.07 L542.80,33.96 L543.30,34.38 L543.80,34.77 L544.30,35.00 L544.80,34.83 L545.30,34.78 L545.80,34.95 L546.30,35.46 L546.80,35.62 L547.30,35.50 L547.80,35.86 L548.30,36.12 L548.80,36.25 L549.30,36.31 L549.80,36.59 L550.30,36.94 L550.80,37.39 L551.30,37.82 L551.80,37.84 L552.30,38.07 L552.80,38.22 L553.30,38.49 L553.80,38.73 L554.30,38.84 L554.80,38.79 L555.30,38.92 L555.80,39.03 L556.30,38.78 L556.80,39.19 L557.30,39.56 L557.80,39.81 L558.30,40.54 L558.80,40.53 L559.30,40.19 L559.80,40.54 L560.30,40.91 L560.80,41.01 L561.30,41.06 L561.80,41.39 L562.30,41.69 L562.80,41.57 L563.30,41.64 L563.80,42.02 L564.30,42.04 L564.80,42.28 L565.30,42.52 L565.80,42.88 L566.30,43.31 L566.80,43.42 L567.30,43.56 L567.80,43.81 L568.30,43.85 L568.80,43.96 L569.30,44.65 L569.80,44.75 L570.30,45.09 L570.80,45.40 L571.30,45.60 L571.80,45.94 L572.30,46.10 L572.80,46.39 L573.30,46.06 L573.80,46.32 L574.30,46.88 L574.80,46.68 L575.30,46.41 L575.80,46.43 L576.30,46.35 L576.80,46.64 L577.30,46.82 L577.80,46.78 L578.30,46.94 L578.80,47.09 L579.30,47.29 L579.80,47.92 L580.30,48.45 L580.80,48.73 L581.30,49.10 L581.80,49.15 L582.30,49.42 L582.80,49.76 L583.30,50.11 L583.80,50.40 L584.30,50.57 L584.80,50.57 L585.30,50.62 L585.80,51.28 L586.30,51.40 L586.80,51.01 L587.30,51.28 L587.80,51.80 L588.30,51.58 L588.80,51.40 L589.30,51.67 L589.80,51.54 L590.30,52.01 L590.80,52.60 L591.30,52.80 L591.80,53.00 L592.30,53.40 L592.80,53.73 L593.30,53.86 L593.80,53.92 L594.30,53.79 L594.80,54.19 L595.30,54.24 L595.80,53.94 L596.30,53.88 L596.80,53.61 L597.30,53.38 L597.80,53.45 L598.30,53.40 L598.80,53.22 L599.30,53.30 L599.80,53.63 L600.30,54.05 L600.80,54.19 L601.30,53.95 L601.80,53.52 L602.30,54.38 L602.80,55.56 L603.30,55.39 L603.80,55.44 L604.30,55.98 L604.80,56.23 L605.30,56.37 L605.80,55.95 L606.30,56.25 L606.80,56.00 L607.30,55.80 L607.80,56.53 L608.30,56.59 L608.80,57.19 L609.30,57.50 L609.80,56.40 L610.30,55.26 L610.80,56.14 L611.30,56.53 L611.80,56.32 L612.30,57.14 L612.80,56.59 L613.30,55.52 L613.80,56.34 L614.30,57.25 L614.80,57.13 L615.30,57.21 L615.80,57.06 L616.30,56.56 L616.80,56.95 L617.30,57.30 L617.80,56.92 L618.30,57.86 L618.80,58.90 L619.30,59.24 L619.80,59.07 L620.30,58.64 L620.80,58.57 L621.30,58.39 L621.80,58.75 L622.30,58.69 L622.80,58.67 L623.30,59.07 L623.80,59.74 L624.30,59.13 L624.80,58.80 L625.30,59.44 L625.80,59.24 L626.30,58.86 L626.80,58.83 L627.30,59.83 L627.80,60.15 L628.30,60.08 L628.80,60.18 L629.30,60.76 L629.80,60.98 L630.30,59.73 L630.80,59.48 L631.30,59.57 L631.80,58.57 L632.30,59.13 L632.80,60.91 L633.30,61.14 L633.80,60.16 L634.30,59.78 L634.80,60.67 L635.30,61.08 L635.80,60.55 L636.30,60.29 L636.80,60.07 L637.30,60.20 L637.80,60.23 L638.30,59.91 L638.80,59.29 L639.30,59.49 L639.80,59.77 L640.30,60.19 L640.80,60.17 L641.30,59.92 L641.80,60.63 L642.30,60.37 L642.80,61.21 L643.30,62.40 L643.80,61.59 L644.30,61.23 L644.80,61.32 L645.30,59.70 L645.80,59.36 L646.30,60.14 L646.80,60.01 L647.30,59.64 L647.80,59.57 L648.30,60.01 L648.80,60.68 L649.30,61.00 L649.80,60.67 L650.30,61.26 L650.80,61.16 L651.30,60.51 L651.80,60.09 L652.30,60.90 L652.80,61.98 L653.30,61.63 L653.80,61.34 L654.30,60.79 L654.80,60.35 L655.30,59.94 L655.80,59.52 L656.30,59.39 L656.80,59.76 L657.30,59.63 L657.80,58.69 L658.30,57.95 L658.80,57.49 L659.30,58.20 L659.80,58.62 L660.30,58.07 L660.80,57.84 L661.30,57.51 L661.80,57.78 L662.30,58.73 L662.80,58.81 L663.30,58.59 L663.80,58.86 L664.30,59.20 L664.80,58.98 L665.30,59.08 L665.80,59.27 L666.30,59.34 L666.80,58.82 L667.30,58.09 L667.80,58.40 L668.30,57.60 L668.80,56.55 L669.30,56.76 L669.80,57.05 L670.30,56.70 L670.80,57.02 L671.30,58.36 L671.80,58.66 L672.30,58.87 L672.80,59.72 L673.30,60.75 L673.80,60.84 L674.30,60.22 L674.80,61.02 L675.30,60.72 L675.80,60.01" fill="none" stroke="#0a97fd" stroke-width="1.15" stroke-linejoin="round" stroke-linecap="round"/>
<path d="M506.80,81.52 L507.30,86.45 L507.80,89.91 L508.30,92.33 L508.80,94.00 L509.30,95.12 L509.80,96.20 L510.30,97.39 L510.80,98.83 L511.30,99.96 L511.80,100.57 L512.30,101.22 L512.80,102.14 L513.30,103.11 L513.80,103.91 L514.30,104.59 L514.80,105.29 L515.30,105.78 L515.80,106.23 L516.30,106.72 L516.80,107.09 L517.30,107.48 L517.80,108.07 L518.30,108.38 L518.80,108.40 L519.30,108.33 L519.80,108.62 L520.30,108.81 L520.80,108.78 L521.30,109.39 L521.80,109.89 L522.30,109.95 L522.80,109.82 L523.30,109.99 L523.80,110.35 L524.30,110.71 L524.80,111.36 L525.30,111.53 L525.80,111.34 L526.30,111.39 L526.80,111.73 L527.30,112.11 L527.80,112.20 L528.30,112.48 L528.80,112.71 L529.30,113.08 L529.80,113.62 L530.30,113.83 L530.80,113.83 L531.30,113.95 L531.80,114.19 L532.30,114.24 L532.80,114.37 L533.30,114.40 L533.80,114.39 L534.30,114.84 L534.80,115.18 L535.30,115.25 L535.80,115.57 L536.30,115.45 L536.80,115.34 L537.30,115.75 L537.80,116.05 L538.30,116.09 L538.80,116.28 L539.30,116.46 L539.80,116.22 L540.30,116.12 L540.80,116.45 L541.30,116.68 L541.80,116.30 L542.30,116.40 L542.80,116.72 L543.30,116.67 L543.80,116.47 L544.30,116.18 L544.80,116.02 L545.30,116.37 L545.80,116.45 L546.30,116.26 L546.80,116.15 L547.30,115.89 L547.80,115.69 L548.30,115.56 L548.80,115.88 L549.30,115.70 L549.80,115.66 L550.30,115.82 L550.80,115.46 L551.30,115.27 L551.80,115.28 L552.30,115.27 L552.80,115.19 L553.30,115.00 L553.80,114.94 L554.30,114.82 L554.80,114.59 L555.30,114.63 L555.80,114.83 L556.30,114.50 L556.80,114.26 L557.30,114.22 L557.80,113.85 L558.30,113.80 L558.80,113.56 L559.30,113.33 L559.80,112.97 L560.30,112.54 L560.80,112.28 L561.30,111.68 L561.80,111.68 L562.30,111.68 L562.80,111.56 L563.30,111.49 L563.80,110.93 L564.30,110.84 L564.80,111.10 L565.30,111.34 L565.80,111.01 L566.30,110.67 L566.80,110.38 L567.30,110.50 L567.80,110.60 L568.30,109.80 L568.80,109.97 L569.30,110.62 L569.80,110.00 L570.30,109.15 L570.80,109.13 L571.30,108.86 L571.80,108.93 L572.30,108.79 L572.80,108.26 L573.30,108.47 L573.80,108.33 L574.30,108.19 L574.80,108.07 L575.30,107.56 L575.80,107.27 L576.30,108.10 L576.80,108.50 L577.30,108.01 L577.80,108.06 L578.30,108.01 L578.80,107.99 L579.30,108.44 L579.80,108.07 L580.30,107.02 L580.80,106.92 L581.30,106.86 L581.80,107.21 L582.30,107.65 L582.80,106.99 L583.30,106.17 L583.80,106.15 L584.30,106.75 L584.80,105.86 L585.30,105.44 L585.80,105.77 L586.30,105.77 L586.80,105.61 L587.30,105.08 L587.80,104.80 L588.30,104.45 L588.80,105.12 L589.30,105.48 L589.80,104.84 L590.30,104.23 L590.80,103.69 L591.30,103.72 L591.80,104.16 L592.30,104.17 L592.80,104.09 L593.30,103.73 L593.80,103.68 L594.30,103.94 L594.80,104.27 L595.30,104.76 L595.80,104.31 L596.30,103.51 L596.80,103.47 L597.30,103.45 L597.80,103.19 L598.30,103.27 L598.80,103.11 L599.30,103.22 L599.80,103.41 L600.30,103.23 L600.80,103.13 L601.30,102.76 L601.80,102.46 L602.30,102.51 L602.80,102.52 L603.30,102.56 L603.80,102.61 L604.30,102.05 L604.80,101.96 L605.30,101.86 L605.80,101.55 L606.30,101.72 L606.80,101.17 L607.30,101.13 L607.80,101.60 L608.30,101.36 L608.80,101.02 L609.30,100.77 L609.80,100.40 L610.30,100.17 L610.80,100.00 L611.30,99.80 L611.80,99.31 L612.30,99.05 L612.80,99.16 L613.30,98.83 L613.80,98.49 L614.30,98.56 L614.80,98.11 L615.30,98.00 L615.80,98.45 L616.30,98.33 L616.80,98.30 L617.30,97.97 L617.80,97.73 L618.30,98.04 L618.80,98.18 L619.30,97.99 L619.80,97.38 L620.30,97.41 L620.80,98.10 L621.30,98.16 L621.80,97.82 L622.30,97.02 L622.80,97.14 L623.30,97.45 L623.80,96.35 L624.30,96.38 L624.80,96.53 L625.30,95.91 L625.80,95.99 L626.30,96.54 L626.80,96.43 L627.30,95.96 L627.80,96.37 L628.30,96.55 L628.80,95.83 L629.30,95.12 L629.80,94.60 L630.30,94.28 L630.80,94.57 L631.30,94.65 L631.80,94.32 L632.30,94.23 L632.80,93.72 L633.30,93.15 L633.80,93.32 L634.30,93.25 L634.80,93.12 L635.30,92.86 L635.80,92.29 L636.30,92.15 L636.80,91.86 L637.30,91.25 L637.80,91.76 L638.30,92.42 L638.80,92.64 L639.30,92.48 L639.80,92.52 L640.30,92.93 L640.80,92.72 L641.30,92.09 L641.80,91.98 L642.30,92.57 L642.80,92.43 L643.30,91.66 L643.80,91.23 L644.30,91.33 L644.80,90.35 L645.30,89.99 L645.80,90.93 L646.30,91.22 L646.80,91.64 L647.30,91.86 L647.80,91.51 L648.30,91.22 L648.80,91.16 L649.30,90.60 L649.80,89.96 L650.30,89.90 L650.80,89.96 L651.30,89.15 L651.80,88.10 L652.30,87.77 L652.80,87.79 L653.30,87.36 L653.80,87.00 L654.30,86.35 L654.80,85.50 L655.30,85.36 L655.80,85.32 L656.30,85.41 L656.80,84.56 L657.30,83.90 L657.80,84.35 L658.30,84.38 L658.80,83.82 L659.30,84.26 L659.80,84.79 L660.30,84.59 L660.80,84.24 L661.30,84.26 L661.80,84.14 L662.30,83.93 L662.80,83.47 L663.30,82.61 L663.80,82.60 L664.30,82.31 L664.80,82.10 L665.30,82.03 L665.80,81.22 L666.30,80.74 L666.80,80.43 L667.30,80.19 L667.80,79.65 L668.30,78.87 L668.80,79.07 L669.30,79.58 L669.80,79.56 L670.30,78.72 L670.80,78.01 L671.30,78.26 L671.80,78.05 L672.30,77.29 L672.80,77.48 L673.30,78.27 L673.80,78.48 L674.30,78.28 L674.80,78.22 L675.30,78.66 L675.80,78.40" fill="none" stroke="#ff0a14" stroke-width="1.15" stroke-linejoin="round" stroke-linecap="round"/>
<line x1="551" y1="19.4" x2="563" y2="19.4" stroke="#0a97fd" stroke-width="1.3"/>
<text x="566" y="23.6" font-size="10.7" text-anchor="start" font-weight="normal" >2PACz@PVA@D-PLA</text>
<line x1="551" y1="132.6" x2="563" y2="132.6" stroke="#ff0a14" stroke-width="1.3"/>
<text x="568" y="136.9" font-size="10.7" text-anchor="start" font-weight="normal" >2PACz@PVA@L-PLA</text>
<text x="673.5" y="118.8" font-size="10.7" text-anchor="end" font-weight="normal" >λ<tspan font-size="5.6" dy="3.6" dx="0.8">ex</tspan><tspan dy="-3.6">=299 nm</tspan></text>
<text x="2.9" y="188.6" font-size="10.2" text-anchor="start" font-weight="bold" >d</text>
<rect x="37.9" y="188.7" width="169.6" height="138.2" fill="none" stroke="#111" stroke-width="1.4"/>
<line x1="37.9" y1="257.5" x2="207.5" y2="257.5" stroke="#111" stroke-width="1.4"/>
<line x1="35.1" y1="203.8" x2="37.9" y2="203.8" stroke="#111" stroke-width="1.4"/>
<line x1="35.1" y1="225.1" x2="37.9" y2="225.1" stroke="#111" stroke-width="1.4"/>
<line x1="35.1" y1="246.6" x2="37.9" y2="246.6" stroke="#111" stroke-width="1.4"/>
<line x1="36.199999999999996" y1="214.4" x2="37.9" y2="214.4" stroke="#111" stroke-width="1.4"/>
<line x1="36.199999999999996" y1="235.8" x2="37.9" y2="235.8" stroke="#111" stroke-width="1.4"/>
<text x="32.3" y="208.70000000000002" font-size="10.7" text-anchor="end" font-weight="normal" >1</text>
<text x="32.3" y="230.0" font-size="10.7" text-anchor="end" font-weight="normal" >0</text>
<text x="32.3" y="251.5" font-size="10.7" text-anchor="end" font-weight="normal" >-1</text>
<line x1="35.1" y1="264.4" x2="37.9" y2="264.4" stroke="#111" stroke-width="1.4"/>
<line x1="35.1" y1="287.6" x2="37.9" y2="287.6" stroke="#111" stroke-width="1.4"/>
<line x1="35.1" y1="311" x2="37.9" y2="311" stroke="#111" stroke-width="1.4"/>
<line x1="36.199999999999996" y1="276" x2="37.9" y2="276" stroke="#111" stroke-width="1.4"/>
<line x1="36.199999999999996" y1="299.3" x2="37.9" y2="299.3" stroke="#111" stroke-width="1.4"/>
<line x1="36.199999999999996" y1="322.8" x2="37.9" y2="322.8" stroke="#111" stroke-width="1.4"/>
<text x="32.3" y="269.29999999999995" font-size="10.7" text-anchor="end" font-weight="normal" >1.5</text>
<text x="32.3" y="292.5" font-size="10.7" text-anchor="end" font-weight="normal" >0</text>
<text x="32.3" y="315.9" font-size="10.7" text-anchor="end" font-weight="normal" >-1.5</text>
<line x1="68.6" y1="326.9" x2="68.6" y2="329.79999999999995" stroke="#111" stroke-width="1.4"/>
<line x1="114.6" y1="326.9" x2="114.6" y2="329.79999999999995" stroke="#111" stroke-width="1.4"/>
<line x1="160.6" y1="326.9" x2="160.6" y2="329.79999999999995" stroke="#111" stroke-width="1.4"/>
<line x1="207" y1="326.9" x2="207" y2="329.79999999999995" stroke="#111" stroke-width="1.4"/>
<line x1="45.6" y1="326.9" x2="45.6" y2="328.7" stroke="#111" stroke-width="1.4"/>
<line x1="91.6" y1="326.9" x2="91.6" y2="328.7" stroke="#111" stroke-width="1.4"/>
<line x1="137.6" y1="326.9" x2="137.6" y2="328.7" stroke="#111" stroke-width="1.4"/>
<line x1="183.8" y1="326.9" x2="183.8" y2="328.7" stroke="#111" stroke-width="1.4"/>
<text x="68.6" y="341.9" font-size="10.7" text-anchor="middle" font-weight="normal" >400</text>
<text x="114.6" y="341.9" font-size="10.7" text-anchor="middle" font-weight="normal" >500</text>
<text x="160.6" y="341.9" font-size="10.7" text-anchor="middle" font-weight="normal" >600</text>
<text x="207" y="341.9" font-size="10.7" text-anchor="middle" font-weight="normal" >700</text>
<text x="122.6" y="352.9" font-size="10.7" text-anchor="middle" font-weight="normal" >Wavelength (nm)</text>
<text transform="translate(5.4,223.2) rotate(-90)" font-size="10.7" text-anchor="middle" dominant-baseline="central">CPL (mdeg)</text>
<text transform="translate(4.0,291.8) rotate(-90)" font-size="10.7" text-anchor="middle" dominant-baseline="central"><tspan font-style="italic">g</tspan><tspan font-size="5.6" dy="4.0" dx="0.4">lum</tspan><tspan dy="-4.0"> (×10</tspan><tspan font-size="6.5" dy="-3.5">-2</tspan><tspan dy="3.5">)</tspan></text>
<path d="M38.00,222.87 L38.50,222.43 L39.00,222.15 L39.50,221.56 L40.00,221.10 L40.50,220.55 L41.00,219.94 L41.50,219.54 L42.00,219.57 L42.50,219.51 L43.00,218.76 L43.50,218.43 L44.00,218.33 L44.50,218.37 L45.00,217.82 L45.50,217.19 L46.00,217.30 L46.50,218.02 L47.00,218.20 L47.50,217.41 L48.00,217.24 L48.50,217.69 L49.00,217.38 L49.50,216.70 L50.00,216.99 L50.50,217.14 L51.00,216.95 L51.50,216.65 L52.00,216.91 L52.50,217.43 L53.00,217.07 L53.50,216.81 L54.00,216.18 L54.50,216.21 L55.00,216.74 L55.50,216.79 L56.00,217.13 L56.50,217.08 L57.00,216.64 L57.50,216.99 L58.00,217.39 L58.50,217.40 L59.00,217.61 L59.50,217.78 L60.00,217.52 L60.50,218.06 L61.00,218.85 L61.50,218.99 L62.00,219.59 L62.50,219.50 L63.00,218.75 L63.50,218.71 L64.00,219.05 L64.50,219.34 L65.00,219.84 L65.50,219.66 L66.00,219.91 L66.50,220.21 L67.00,220.37 L67.50,220.87 L68.00,220.88 L68.50,221.03 L69.00,221.10 L69.50,221.09 L70.00,220.94 L70.50,221.20 L71.00,222.20 L71.50,222.82 L72.00,222.81 L72.50,222.60 L73.00,222.22 L73.50,222.51 L74.00,222.76 L74.50,222.48 L75.00,222.51 L75.50,222.63 L76.00,222.67 L76.50,222.69 L77.00,222.58 L77.50,222.56 L78.00,223.44 L78.50,223.55 L79.00,222.97 L79.50,223.17 L80.00,223.44 L80.50,223.07 L81.00,222.88 L81.50,223.42 L82.00,223.57 L82.50,223.40 L83.00,223.74 L83.50,223.57 L84.00,223.22 L84.50,223.28 L85.00,223.63 L85.50,223.28 L86.00,222.75 L86.50,223.09 L87.00,223.39 L87.50,223.63 L88.00,223.76 L88.50,223.16 L89.00,222.93 L89.50,223.17 L90.00,222.73 L90.50,222.84 L91.00,222.68 L91.50,221.93 L92.00,221.96 L92.50,222.00 L93.00,221.82 L93.50,222.18 L94.00,222.31 L94.50,222.48 L95.00,222.24 L95.50,221.47 L96.00,221.33 L96.50,221.49 L97.00,221.37 L97.50,221.67 L98.00,221.41 L98.50,220.08 L99.00,219.48 L99.50,218.93 L100.00,217.89 L100.50,217.15 L101.00,216.70 L101.50,216.22 L102.00,215.92 L102.50,215.60 L103.00,215.04 L103.50,214.78 L104.00,214.17 L104.50,214.02 L105.00,214.48 L105.50,214.84 L106.00,214.83 L106.50,215.35 L107.00,215.57 L107.50,214.10 L108.00,212.62 L108.50,211.95 L109.00,211.40 L109.50,210.35 L110.00,209.81 L110.50,209.78 L111.00,210.00 L111.50,210.14 L112.00,210.20 L112.50,210.84 L113.00,211.69 L113.50,211.37 L114.00,210.72 L114.50,210.69 L115.00,210.21 L115.50,208.93 L116.00,207.50 L116.50,206.75 L117.00,205.50 L117.50,204.24 L118.00,203.65 L118.50,203.18 L119.00,203.49 L119.50,204.84 L120.00,206.03 L120.50,206.49 L121.00,206.30 L121.50,206.46 L122.00,207.33 L122.50,207.86 L123.00,208.02 L123.50,208.41 L124.00,208.50 L124.50,208.11 L125.00,207.08 L125.50,206.53 L126.00,206.96 L126.50,207.35 L127.00,207.61 L127.50,207.88 L128.00,208.42 L128.50,209.44 L129.00,210.39 L129.50,212.16 L130.00,212.81 L130.50,211.61 L131.00,210.27 L131.50,209.01 L132.00,207.86 L132.50,206.53 L133.00,205.35 L133.50,205.86 L134.00,207.36 L134.50,208.67 L135.00,209.88 L135.50,210.09 L136.00,209.79 L136.50,209.14 L137.00,208.78 L137.50,209.19 L138.00,208.85 L138.50,208.19 L139.00,208.06 L139.50,209.03 L140.00,209.75 L140.50,210.41 L141.00,211.74 L141.50,212.54 L142.00,212.36 L142.50,212.14 L143.00,211.98 L143.50,211.68 L144.00,211.41 L144.50,210.76 L145.00,210.45 L145.50,210.56 L146.00,209.75 L146.50,208.77 L147.00,208.44 L147.50,207.55 L148.00,206.90 L148.50,206.61 L149.00,206.93 L149.50,208.37 L150.00,209.56 L150.50,210.10 L151.00,210.95 L151.50,212.04 L152.00,212.53 L152.50,213.12 L153.00,212.92 L153.50,212.92 L154.00,213.34 L154.50,213.51 L155.00,213.64 L155.50,213.19 L156.00,213.28 L156.50,213.70 L157.00,213.73 L157.50,213.77 L158.00,213.76 L158.50,213.27 L159.00,213.82 L159.50,214.75 L160.00,214.81 L160.50,214.92 L161.00,215.42 L161.50,215.58 L162.00,215.47 L162.50,215.89 L163.00,216.76 L163.50,216.87 L164.00,217.27 L164.50,217.83 L165.00,217.61 L165.50,218.40 L166.00,219.00 L166.50,218.68 L167.00,218.83 L167.50,219.44 L168.00,219.73 L168.50,219.21 L169.00,218.77 L169.50,218.80 L170.00,218.31 L170.50,218.07 L171.00,218.18 L171.50,218.08 L172.00,218.21 L172.50,218.68 L173.00,219.18 L173.50,219.38 L174.00,219.58 L174.50,220.20 L175.00,220.53 L175.50,220.62 L176.00,221.00 L176.50,221.05 L177.00,221.43 L177.50,221.19 L178.00,220.94 L178.50,221.17 L179.00,221.54 L179.50,222.15 L180.00,221.32 L180.50,220.77 L181.00,221.52 L181.50,222.07 L182.00,222.19 L182.50,222.08 L183.00,222.11 L183.50,222.40 L184.00,222.36 L184.50,222.55 L185.00,222.11 L185.50,222.11 L186.00,222.50 L186.50,222.67 L187.00,222.96 L187.50,222.59 L188.00,222.82 L188.50,222.91 L189.00,222.68 L189.50,222.61 L190.00,222.93 L190.50,223.53 L191.00,223.89 L191.50,223.82 L192.00,223.92 L192.50,224.04 L193.00,223.83 L193.50,224.04 L194.00,224.38 L194.50,224.20 L195.00,223.92 L195.50,223.99 L196.00,224.08 L196.50,223.89 L197.00,224.07 L197.50,224.13 L198.00,223.90 L198.50,223.69 L199.00,223.56 L199.50,223.77 L200.00,223.49 L200.50,223.83 L201.00,224.00 L201.50,223.93 L202.00,224.08 L202.50,223.47 L203.00,223.14 L203.50,223.41 L204.00,223.52 L204.50,223.43 L205.00,223.34 L205.50,222.88 L206.00,222.90 L206.50,222.80 L207.00,222.94" fill="none" stroke="#0a97fd" stroke-width="1.25" stroke-linejoin="round" stroke-linecap="round"/>
<path d="M38.00,225.02 L38.50,225.19 L39.00,225.51 L39.50,225.90 L40.00,226.08 L40.50,226.19 L41.00,226.57 L41.50,226.90 L42.00,227.28 L42.50,228.06 L43.00,228.45 L43.50,228.76 L44.00,229.18 L44.50,229.67 L45.00,230.35 L45.50,230.92 L46.00,231.63 L46.50,232.44 L47.00,232.98 L47.50,233.35 L48.00,233.71 L48.50,234.16 L49.00,234.59 L49.50,234.98 L50.00,235.36 L50.50,235.81 L51.00,235.94 L51.50,236.04 L52.00,236.63 L52.50,236.87 L53.00,236.89 L53.50,237.06 L54.00,237.09 L54.50,237.17 L55.00,237.55 L55.50,237.60 L56.00,237.13 L56.50,236.80 L57.00,236.73 L57.50,236.76 L58.00,236.54 L58.50,236.17 L59.00,236.16 L59.50,236.12 L60.00,235.80 L60.50,235.41 L61.00,235.09 L61.50,234.92 L62.00,234.62 L62.50,234.54 L63.00,234.46 L63.50,234.17 L64.00,234.16 L64.50,233.97 L65.00,233.37 L65.50,233.06 L66.00,233.03 L66.50,232.59 L67.00,232.10 L67.50,231.91 L68.00,231.59 L68.50,231.52 L69.00,231.21 L69.50,230.71 L70.00,230.71 L70.50,230.57 L71.00,230.39 L71.50,230.21 L72.00,229.95 L72.50,229.81 L73.00,229.39 L73.50,229.06 L74.00,229.00 L74.50,228.82 L75.00,228.73 L75.50,228.45 L76.00,228.19 L76.50,228.22 L77.00,228.19 L77.50,227.92 L78.00,227.98 L78.50,228.19 L79.00,227.71 L79.50,227.39 L80.00,227.71 L80.50,227.66 L81.00,227.33 L81.50,227.14 L82.00,226.97 L82.50,226.89 L83.00,226.82 L83.50,226.85 L84.00,226.81 L84.50,226.62 L85.00,226.49 L85.50,226.49 L86.00,226.49 L86.50,226.44 L87.00,226.61 L87.50,226.64 L88.00,226.55 L88.50,226.52 L89.00,226.44 L89.50,226.37 L90.00,226.31 L90.50,226.38 L91.00,226.29 L91.50,226.34 L92.00,226.45 L92.50,226.22 L93.00,226.18 L93.50,226.23 L94.00,226.36 L94.50,226.45 L95.00,226.66 L95.50,226.77 L96.00,226.55 L96.50,226.71 L97.00,226.90 L97.50,227.14 L98.00,227.64 L98.50,227.89 L99.00,227.82 L99.50,227.85 L100.00,228.39 L100.50,228.75 L101.00,228.83 L101.50,229.20 L102.00,229.77 L102.50,230.12 L103.00,230.22 L103.50,230.47 L104.00,230.88 L104.50,231.14 L105.00,231.32 L105.50,231.75 L106.00,232.11 L106.50,232.44 L107.00,232.90 L107.50,233.52 L108.00,233.79 L108.50,233.90 L109.00,234.36 L109.50,234.80 L110.00,235.31 L110.50,235.60 L111.00,235.79 L111.50,236.05 L112.00,236.42 L112.50,237.03 L113.00,237.51 L113.50,237.73 L114.00,238.08 L114.50,238.59 L115.00,239.09 L115.50,239.42 L116.00,239.75 L116.50,240.01 L117.00,240.30 L117.50,241.04 L118.00,241.30 L118.50,241.44 L119.00,242.02 L119.50,242.32 L120.00,242.51 L120.50,242.83 L121.00,243.20 L121.50,243.49 L122.00,243.57 L122.50,243.83 L123.00,244.20 L123.50,244.41 L124.00,244.76 L124.50,245.11 L125.00,245.39 L125.50,245.46 L126.00,245.63 L126.50,245.95 L127.00,246.09 L127.50,246.23 L128.00,246.21 L128.50,246.16 L129.00,246.37 L129.50,246.35 L130.00,246.39 L130.50,246.57 L131.00,246.60 L131.50,246.56 L132.00,246.58 L132.50,246.83 L133.00,247.07 L133.50,247.23 L134.00,247.16 L134.50,247.06 L135.00,246.99 L135.50,247.05 L136.00,247.10 L136.50,247.08 L137.00,247.25 L137.50,247.13 L138.00,246.71 L138.50,246.55 L139.00,246.46 L139.50,246.34 L140.00,246.53 L140.50,246.58 L141.00,246.18 L141.50,246.11 L142.00,246.30 L142.50,246.08 L143.00,245.74 L143.50,245.59 L144.00,245.52 L144.50,245.45 L145.00,245.35 L145.50,245.20 L146.00,244.99 L146.50,244.79 L147.00,244.50 L147.50,243.97 L148.00,243.65 L148.50,243.62 L149.00,243.36 L149.50,243.20 L150.00,242.97 L150.50,242.56 L151.00,242.54 L151.50,242.49 L152.00,242.14 L152.50,241.94 L153.00,241.80 L153.50,241.51 L154.00,240.91 L154.50,240.57 L155.00,240.55 L155.50,240.28 L156.00,240.12 L156.50,240.11 L157.00,239.81 L157.50,239.33 L158.00,239.36 L158.50,239.20 L159.00,238.63 L159.50,238.48 L160.00,238.43 L160.50,238.11 L161.00,237.94 L161.50,237.74 L162.00,237.35 L162.50,237.20 L163.00,237.17 L163.50,236.87 L164.00,236.61 L164.50,236.46 L165.00,236.52 L165.50,236.24 L166.00,235.88 L166.50,235.75 L167.00,235.38 L167.50,235.26 L168.00,235.17 L168.50,235.03 L169.00,234.77 L169.50,234.37 L170.00,234.09 L170.50,234.01 L171.00,233.94 L171.50,233.84 L172.00,233.64 L172.50,233.41 L173.00,233.34 L173.50,233.06 L174.00,232.56 L174.50,232.23 L175.00,232.05 L175.50,232.17 L176.00,232.05 L176.50,231.84 L177.00,231.82 L177.50,231.70 L178.00,231.58 L178.50,231.22 L179.00,230.93 L179.50,230.79 L180.00,230.68 L180.50,230.45 L181.00,230.27 L181.50,230.34 L182.00,230.01 L182.50,229.72 L183.00,229.65 L183.50,229.50 L184.00,229.54 L184.50,229.37 L185.00,229.23 L185.50,228.93 L186.00,228.84 L186.50,228.82 L187.00,228.65 L187.50,228.63 L188.00,228.18 L188.50,227.98 L189.00,228.18 L189.50,228.32 L190.00,228.23 L190.50,228.00 L191.00,227.73 L191.50,227.76 L192.00,228.02 L192.50,227.78 L193.00,227.49 L193.50,227.24 L194.00,227.28 L194.50,227.67 L195.00,227.59 L195.50,227.38 L196.00,227.30 L196.50,227.01 L197.00,227.04 L197.50,226.97 L198.00,226.75 L198.50,226.87 L199.00,226.93 L199.50,226.90 L200.00,226.80 L200.50,226.63 L201.00,226.41 L201.50,226.46 L202.00,226.48 L202.50,226.30 L203.00,226.21 L203.50,226.26 L204.00,226.17 L204.50,226.05 L205.00,226.05 L205.50,226.19 L206.00,226.39 L206.50,226.57 L207.00,226.35" fill="none" stroke="#ff3b44" stroke-width="1.25" stroke-linejoin="round" stroke-linecap="round"/>
<path d="M38.00,281.52 L38.50,281.82 L39.00,282.17 L39.50,282.55 L40.00,282.82 L40.50,282.99 L41.00,282.91 L41.50,283.18 L42.00,283.49 L42.50,283.64 L43.00,283.66 L43.50,283.83 L44.00,284.18 L44.50,284.35 L45.00,284.48 L45.50,284.60 L46.00,284.58 L46.50,284.57 L47.00,284.63 L47.50,284.81 L48.00,284.65 L48.50,284.59 L49.00,284.73 L49.50,285.11 L50.00,284.91 L50.50,285.11 L51.00,284.83 L51.50,285.15 L52.00,285.01 L52.50,285.23 L53.00,285.15 L53.50,284.90 L54.00,284.86 L54.50,284.77 L55.00,284.63 L55.50,284.86 L56.00,285.01 L56.50,285.46 L57.00,285.07 L57.50,285.15 L58.00,285.12 L58.50,285.38 L59.00,285.22 L59.50,284.93 L60.00,284.75 L60.50,284.53 L61.00,284.47 L61.50,284.49 L62.00,284.60 L62.50,284.74 L63.00,284.69 L63.50,284.97 L64.00,285.08 L64.50,285.05 L65.00,284.94 L65.50,284.68 L66.00,284.60 L66.50,284.52 L67.00,284.42 L67.50,284.37 L68.00,284.08 L68.50,284.17 L69.00,284.31 L69.50,284.31 L70.00,284.26 L70.50,283.94 L71.00,283.84 L71.50,283.64 L72.00,283.82 L72.50,284.14 L73.00,284.26 L73.50,283.97 L74.00,283.73 L74.50,283.57 L75.00,283.66 L75.50,283.54 L76.00,283.53 L76.50,283.44 L77.00,283.27 L77.50,283.12 L78.00,282.80 L78.50,282.74 L79.00,282.56 L79.50,282.65 L80.00,282.53 L80.50,282.62 L81.00,282.62 L81.50,282.50 L82.00,282.32 L82.50,282.10 L83.00,282.25 L83.50,282.45 L84.00,282.58 L84.50,282.44 L85.00,282.41 L85.50,282.21 L86.00,282.50 L86.50,282.43 L87.00,282.49 L87.50,282.83 L88.00,283.30 L88.50,283.73 L89.00,283.72 L89.50,283.78 L90.00,284.12 L90.50,284.14 L91.00,284.25 L91.50,284.44 L92.00,284.79 L92.50,285.15 L93.00,285.28 L93.50,285.66 L94.00,285.62 L94.50,285.79 L95.00,285.48 L95.50,285.55 L96.00,285.76 L96.50,285.94 L97.00,286.17 L97.50,286.05 L98.00,286.04 L98.50,285.94 L99.00,285.89 L99.50,285.93 L100.00,286.03 L100.50,286.14 L101.00,286.11 L101.50,285.91 L102.00,285.85 L102.50,285.87 L103.00,286.05 L103.50,286.27 L104.00,286.34 L104.50,286.20 L105.00,285.88 L105.50,285.68 L106.00,285.56 L106.50,285.45 L107.00,285.47 L107.50,285.50 L108.00,285.66 L108.50,285.64 L109.00,285.65 L109.50,285.43 L110.00,285.63 L110.50,285.70 L111.00,286.01 L111.50,285.92 L112.00,286.03 L112.50,285.84 L113.00,285.85 L113.50,286.00 L114.00,285.93 L114.50,286.01 L115.00,285.94 L115.50,286.14 L116.00,286.14 L116.50,286.13 L117.00,286.06 L117.50,286.06 L118.00,285.87 L118.50,285.90 L119.00,285.82 L119.50,285.92 L120.00,286.03 L120.50,286.17 L121.00,286.05 L121.50,286.27 L122.00,286.36 L122.50,286.61 L123.00,286.39 L123.50,286.27 L124.00,286.27 L124.50,286.38 L125.00,286.23 L125.50,286.27 L126.00,286.55 L126.50,286.56 L127.00,286.60 L127.50,286.35 L128.00,286.55 L128.50,286.61 L129.00,286.46 L129.50,286.51 L130.00,286.53 L130.50,286.65 L131.00,286.60 L131.50,286.47 L132.00,286.46 L132.50,286.68 L133.00,286.58 L133.50,286.73 L134.00,286.44 L134.50,286.62 L135.00,286.52 L135.50,286.38 L136.00,286.31 L136.50,286.21 L137.00,286.44 L137.50,286.60 L138.00,286.59 L138.50,286.52 L139.00,286.51 L139.50,286.63 L140.00,286.90 L140.50,286.77 L141.00,286.65 L141.50,286.47 L142.00,286.55 L142.50,286.73 L143.00,286.73 L143.50,286.58 L144.00,286.45 L144.50,286.37 L145.00,286.56 L145.50,286.55 L146.00,286.47 L146.50,286.20 L147.00,286.26 L147.50,286.42 L148.00,286.44 L148.50,286.27 L149.00,286.19 L149.50,286.00 L150.00,285.92 L150.50,285.98 L151.00,286.09 L151.50,286.25 L152.00,286.28 L152.50,286.38 L153.00,286.33 L153.50,286.41 L154.00,286.40 L154.50,286.34 L155.00,286.18 L155.50,286.13 L156.00,286.07 L156.50,285.98 L157.00,285.91 L157.50,285.77 L158.00,285.73 L158.50,285.71 L159.00,285.86 L159.50,285.69 L160.00,285.66 L160.50,285.69 L161.00,285.87 L161.50,285.77 L162.00,285.83 L162.50,285.67 L163.00,285.75 L163.50,285.81 L164.00,285.85 L164.50,285.81 L165.00,285.77 L165.50,285.79 L166.00,285.80 L166.50,285.69 L167.00,285.83 L167.50,285.61 L168.00,285.48 L168.50,285.24 L169.00,285.35 L169.50,285.33 L170.00,285.33 L170.50,285.46 L171.00,285.44 L171.50,285.52 L172.00,285.52 L172.50,285.51 L173.00,285.49 L173.50,285.60 L174.00,285.68 L174.50,285.58 L175.00,285.37 L175.50,285.21 L176.00,285.28 L176.50,285.35 L177.00,285.33 L177.50,285.26 L178.00,285.25 L178.50,285.26 L179.00,285.28 L179.50,285.02 L180.00,284.96 L180.50,284.86 L181.00,285.17 L181.50,285.19 L182.00,285.17 L182.50,284.86 L183.00,284.87 L183.50,284.97 L184.00,285.03 L184.50,285.25 L185.00,285.19 L185.50,285.31 L186.00,285.12 L186.50,285.15 L187.00,284.84 L187.50,284.80 L188.00,284.73 L188.50,284.85 L189.00,284.64 L189.50,284.74 L190.00,284.73 L190.50,284.91 L191.00,284.79 L191.50,284.80 L192.00,284.89 L192.50,284.79 L193.00,284.71 L193.50,284.70 L194.00,284.85 L194.50,284.91 L195.00,284.82 L195.50,284.71 L196.00,284.75 L196.50,284.93 L197.00,284.91 L197.50,285.07 L198.00,285.03 L198.50,285.04 L199.00,284.86 L199.50,284.46 L200.00,284.14 L200.50,283.71 L201.00,283.57 L201.50,283.46 L202.00,283.28 L202.50,283.07 L203.00,282.62 L203.50,282.48 L204.00,282.11 L204.50,282.07 L205.00,281.81 L205.50,281.69 L206.00,281.47 L206.50,281.27 L207.00,281.25" fill="none" stroke="#0a97fd" stroke-width="1.15" stroke-linejoin="round" stroke-linecap="round"/>
<path d="M38.00,295.06 L38.50,295.72 L39.00,296.21 L39.50,296.66 L40.00,297.09 L40.50,297.82 L41.00,298.26 L41.50,299.05 L42.00,299.52 L42.50,300.21 L43.00,300.66 L43.50,301.36 L44.00,302.02 L44.50,302.65 L45.00,303.12 L45.50,303.77 L46.00,304.35 L46.50,304.87 L47.00,305.43 L47.50,305.84 L48.00,306.37 L48.50,306.61 L49.00,307.02 L49.50,307.52 L50.00,307.87 L50.50,308.33 L51.00,308.66 L51.50,309.21 L52.00,309.29 L52.50,309.62 L53.00,310.01 L53.50,310.48 L54.00,310.79 L54.50,310.71 L55.00,311.05 L55.50,311.10 L56.00,311.49 L56.50,311.23 L57.00,311.35 L57.50,311.22 L58.00,311.46 L58.50,311.26 L59.00,311.17 L59.50,311.27 L60.00,311.22 L60.50,311.15 L61.00,310.83 L61.50,310.74 L62.00,310.86 L62.50,310.99 L63.00,310.95 L63.50,310.57 L64.00,310.44 L64.50,310.54 L65.00,310.70 L65.50,310.59 L66.00,310.27 L66.50,310.04 L67.00,309.63 L67.50,309.43 L68.00,309.40 L68.50,309.31 L69.00,309.53 L69.50,309.26 L70.00,309.09 L70.50,308.76 L71.00,308.75 L71.50,308.68 L72.00,308.29 L72.50,307.95 L73.00,307.84 L73.50,307.70 L74.00,307.36 L74.50,307.09 L75.00,306.91 L75.50,306.63 L76.00,306.22 L76.50,305.86 L77.00,305.74 L77.50,305.51 L78.00,305.43 L78.50,305.19 L79.00,304.73 L79.50,304.37 L80.00,304.09 L80.50,304.01 L81.00,303.77 L81.50,303.31 L82.00,302.83 L82.50,302.48 L83.00,302.06 L83.50,301.55 L84.00,301.16 L84.50,300.74 L85.00,300.40 L85.50,299.55 L86.00,298.85 L86.50,298.10 L87.00,297.54 L87.50,297.07 L88.00,296.33 L88.50,295.87 L89.00,295.21 L89.50,294.88 L90.00,294.39 L90.50,294.01 L91.00,293.50 L91.50,293.19 L92.00,292.74 L92.50,292.65 L93.00,292.30 L93.50,292.49 L94.00,292.43 L94.50,292.54 L95.00,292.35 L95.50,292.56 L96.00,292.43 L96.50,292.53 L97.00,292.69 L97.50,292.88 L98.00,293.02 L98.50,293.14 L99.00,293.24 L99.50,293.25 L100.00,293.19 L100.50,293.13 L101.00,293.44 L101.50,293.59 L102.00,293.75 L102.50,293.66 L103.00,293.65 L103.50,293.82 L104.00,293.89 L104.50,294.05 L105.00,293.97 L105.50,294.15 L106.00,294.19 L106.50,294.51 L107.00,294.73 L107.50,294.78 L108.00,295.02 L108.50,295.11 L109.00,295.30 L109.50,295.24 L110.00,295.26 L110.50,295.49 L111.00,295.66 L111.50,295.90 L112.00,296.07 L112.50,296.37 L113.00,296.61 L113.50,296.55 L114.00,296.40 L114.50,296.41 L115.00,296.53 L115.50,296.82 L116.00,296.77 L116.50,296.92 L117.00,296.94 L117.50,297.07 L118.00,297.05 L118.50,297.07 L119.00,297.08 L119.50,297.12 L120.00,297.25 L120.50,297.25 L121.00,297.49 L121.50,297.46 L122.00,297.70 L122.50,297.60 L123.00,297.68 L123.50,297.88 L124.00,297.96 L124.50,297.95 L125.00,297.77 L125.50,297.87 L126.00,298.34 L126.50,298.54 L127.00,298.78 L127.50,298.56 L128.00,298.69 L128.50,298.77 L129.00,299.17 L129.50,299.17 L130.00,299.28 L130.50,299.23 L131.00,299.31 L131.50,299.35 L132.00,299.40 L132.50,299.37 L133.00,299.54 L133.50,299.73 L134.00,300.03 L134.50,299.93 L135.00,300.12 L135.50,300.29 L136.00,300.63 L136.50,300.71 L137.00,300.72 L137.50,300.78 L138.00,300.69 L138.50,300.82 L139.00,300.81 L139.50,300.92 L140.00,301.12 L140.50,301.22 L141.00,301.28 L141.50,301.22 L142.00,301.32 L142.50,301.31 L143.00,301.37 L143.50,301.40 L144.00,301.51 L144.50,301.62 L145.00,301.64 L145.50,301.98 L146.00,302.20 L146.50,302.38 L147.00,302.24 L147.50,302.40 L148.00,302.46 L148.50,302.53 L149.00,302.40 L149.50,302.47 L150.00,302.69 L150.50,302.73 L151.00,302.98 L151.50,302.81 L152.00,302.95 L152.50,302.70 L153.00,303.05 L153.50,303.01 L154.00,303.18 L154.50,303.15 L155.00,303.39 L155.50,303.35 L156.00,303.28 L156.50,303.08 L157.00,303.28 L157.50,303.38 L158.00,303.55 L158.50,303.54 L159.00,303.58 L159.50,303.61 L160.00,303.80 L160.50,304.07 L161.00,304.01 L161.50,304.01 L162.00,303.87 L162.50,304.19 L163.00,304.16 L163.50,304.25 L164.00,304.15 L164.50,304.38 L165.00,304.45 L165.50,304.60 L166.00,304.61 L166.50,304.62 L167.00,304.52 L167.50,304.58 L168.00,304.68 L168.50,304.86 L169.00,304.95 L169.50,305.08 L170.00,305.03 L170.50,304.88 L171.00,304.96 L171.50,305.25 L172.00,305.29 L172.50,305.04 L173.00,304.85 L173.50,304.90 L174.00,304.88 L174.50,304.97 L175.00,304.90 L175.50,304.94 L176.00,305.03 L176.50,305.08 L177.00,305.16 L177.50,305.07 L178.00,305.16 L178.50,305.04 L179.00,304.89 L179.50,304.62 L180.00,304.73 L180.50,304.68 L181.00,304.54 L181.50,304.25 L182.00,304.14 L182.50,304.21 L183.00,304.30 L183.50,304.29 L184.00,304.11 L184.50,303.86 L185.00,303.53 L185.50,303.57 L186.00,303.55 L186.50,303.93 L187.00,303.88 L187.50,303.61 L188.00,303.23 L188.50,303.20 L189.00,303.25 L189.50,303.20 L190.00,303.12 L190.50,303.26 L191.00,303.30 L191.50,303.21 L192.00,303.21 L192.50,303.13 L193.00,303.13 L193.50,302.85 L194.00,302.77 L194.50,302.83 L195.00,302.74 L195.50,302.73 L196.00,302.64 L196.50,302.67 L197.00,302.59 L197.50,302.28 L198.00,302.33 L198.50,302.28 L199.00,302.28 L199.50,301.81 L200.00,301.42 L200.50,301.33 L201.00,301.51 L201.50,301.47 L202.00,301.31 L202.50,300.87 L203.00,300.62 L203.50,300.29 L204.00,300.18 L204.50,299.83 L205.00,299.70 L205.50,299.57 L206.00,299.38 L206.50,298.91 L207.00,298.54" fill="none" stroke="#ff3b44" stroke-width="1.15" stroke-linejoin="round" stroke-linecap="round"/>
<line x1="51" y1="266.3" x2="63.0" y2="266.3" stroke="#0a97fd" stroke-width="1.3"/>
<text x="66" y="270.3" font-size="10.7" text-anchor="start" font-weight="normal" >Fluc@2PACz@PVA@D-PLA</text>
<line x1="51" y1="318.5" x2="63.0" y2="318.5" stroke="#ff3b44" stroke-width="1.3"/>
<text x="66" y="322.6" font-size="10.7" text-anchor="start" font-weight="normal" >Fluc@2PACz@PVA@L-PLA</text>
<text x="238.3" y="188.6" font-size="10.2" text-anchor="start" font-weight="bold" >e</text>
<rect x="272.7" y="188.7" width="169.5" height="138.2" fill="none" stroke="#111" stroke-width="1.4"/>
<line x1="272.7" y1="257.5" x2="442.2" y2="257.5" stroke="#111" stroke-width="1.4"/>
<line x1="269.9" y1="205.4" x2="272.7" y2="205.4" stroke="#111" stroke-width="1.4"/>
<line x1="269.9" y1="225.4" x2="272.7" y2="225.4" stroke="#111" stroke-width="1.4"/>
<line x1="269.9" y1="245.4" x2="272.7" y2="245.4" stroke="#111" stroke-width="1.4"/>
<line x1="271.0" y1="215.4" x2="272.7" y2="215.4" stroke="#111" stroke-width="1.4"/>
<line x1="271.0" y1="235.4" x2="272.7" y2="235.4" stroke="#111" stroke-width="1.4"/>
<text x="267.09999999999997" y="210.3" font-size="10.7" text-anchor="end" font-weight="normal" >1</text>
<text x="267.09999999999997" y="230.3" font-size="10.7" text-anchor="end" font-weight="normal" >0</text>
<text x="267.09999999999997" y="250.3" font-size="10.7" text-anchor="end" font-weight="normal" >-1</text>
<line x1="269.9" y1="268" x2="272.7" y2="268" stroke="#111" stroke-width="1.4"/>
<line x1="269.9" y1="292.8" x2="272.7" y2="292.8" stroke="#111" stroke-width="1.4"/>
<line x1="269.9" y1="317.6" x2="272.7" y2="317.6" stroke="#111" stroke-width="1.4"/>
<line x1="271.0" y1="280.4" x2="272.7" y2="280.4" stroke="#111" stroke-width="1.4"/>
<line x1="271.0" y1="305.2" x2="272.7" y2="305.2" stroke="#111" stroke-width="1.4"/>
<text x="267.09999999999997" y="272.9" font-size="10.7" text-anchor="end" font-weight="normal" >1.5</text>
<text x="267.09999999999997" y="297.7" font-size="10.7" text-anchor="end" font-weight="normal" >0</text>
<text x="267.09999999999997" y="322.5" font-size="10.7" text-anchor="end" font-weight="normal" >-1.5</text>
<line x1="300.6" y1="326.9" x2="300.6" y2="329.79999999999995" stroke="#111" stroke-width="1.4"/>
<line x1="347.6" y1="326.9" x2="347.6" y2="329.79999999999995" stroke="#111" stroke-width="1.4"/>
<line x1="394.6" y1="326.9" x2="394.6" y2="329.79999999999995" stroke="#111" stroke-width="1.4"/>
<line x1="442" y1="326.9" x2="442" y2="329.79999999999995" stroke="#111" stroke-width="1.4"/>
<line x1="277" y1="326.9" x2="277" y2="328.7" stroke="#111" stroke-width="1.4"/>
<line x1="324" y1="326.9" x2="324" y2="328.7" stroke="#111" stroke-width="1.4"/>
<line x1="371" y1="326.9" x2="371" y2="328.7" stroke="#111" stroke-width="1.4"/>
<line x1="418.3" y1="326.9" x2="418.3" y2="328.7" stroke="#111" stroke-width="1.4"/>
<text x="300.6" y="341.9" font-size="10.7" text-anchor="middle" font-weight="normal" >400</text>
<text x="347.6" y="341.9" font-size="10.7" text-anchor="middle" font-weight="normal" >500</text>
<text x="394.6" y="341.9" font-size="10.7" text-anchor="middle" font-weight="normal" >600</text>
<text x="442" y="341.9" font-size="10.7" text-anchor="middle" font-weight="normal" >700</text>
<text x="357.4" y="352.9" font-size="10.7" text-anchor="middle" font-weight="normal" >Wavelength (nm)</text>
<text transform="translate(239.9,223.2) rotate(-90)" font-size="10.7" text-anchor="middle" dominant-baseline="central">CPL (mdeg)</text>
<text transform="translate(239.3,291.8) rotate(-90)" font-size="10.7" text-anchor="middle" dominant-baseline="central"><tspan font-style="italic">g</tspan><tspan font-size="5.6" dy="4.0" dx="0.4">lum</tspan><tspan dy="-4.0"> (×10</tspan><tspan font-size="6.5" dy="-3.5">-2</tspan><tspan dy="3.5">)</tspan></text>
<path d="M272.70,221.29 L273.20,220.21 L273.70,218.64 L274.20,218.12 L274.70,217.90 L275.20,216.76 L275.70,216.41 L276.20,215.73 L276.70,214.20 L277.20,213.41 L277.70,212.62 L278.20,211.78 L278.70,211.61 L279.20,211.23 L279.70,210.63 L280.20,210.83 L280.70,210.82 L281.20,210.26 L281.70,209.81 L282.20,209.28 L282.70,208.96 L283.20,208.29 L283.70,207.94 L284.20,207.45 L284.70,206.94 L285.20,207.04 L285.70,207.30 L286.20,208.05 L286.70,208.67 L287.20,208.38 L287.70,207.97 L288.20,207.95 L288.70,207.66 L289.20,207.35 L289.70,207.46 L290.20,207.29 L290.70,207.38 L291.20,208.11 L291.70,208.36 L292.20,208.65 L292.70,209.04 L293.20,210.28 L293.70,210.73 L294.20,211.00 L294.70,211.81 L295.20,211.64 L295.70,211.51 L296.20,212.17 L296.70,213.21 L297.20,213.07 L297.70,213.00 L298.20,213.99 L298.70,214.69 L299.20,215.49 L299.70,215.81 L300.20,215.96 L300.70,216.23 L301.20,216.95 L301.70,217.28 L302.20,216.27 L302.70,216.42 L303.20,216.93 L303.70,217.44 L304.20,217.39 L304.70,216.91 L305.20,217.14 L305.70,217.55 L306.20,217.45 L306.70,217.43 L307.20,217.75 L307.70,217.64 L308.20,217.78 L308.70,218.14 L309.20,218.18 L309.70,218.78 L310.20,218.95 L310.70,219.23 L311.20,220.07 L311.70,219.99 L312.20,219.75 L312.70,219.88 L313.20,220.34 L313.70,220.72 L314.20,220.82 L314.70,221.02 L315.20,220.94 L315.70,220.88 L316.20,220.75 L316.70,221.00 L317.20,221.54 L317.70,221.37 L318.20,221.73 L318.70,222.11 L319.20,221.23 L319.70,221.18 L320.20,221.62 L320.70,221.98 L321.20,223.07 L321.70,222.80 L322.20,222.33 L322.70,222.52 L323.20,222.70 L323.70,223.02 L324.20,223.33 L324.70,222.97 L325.20,223.04 L325.70,223.05 L326.20,222.70 L326.70,223.19 L327.20,223.25 L327.70,222.69 L328.20,222.28 L328.70,222.34 L329.20,222.43 L329.70,222.76 L330.20,222.39 L330.70,222.15 L331.20,222.55 L331.70,222.50 L332.20,222.40 L332.70,222.58 L333.20,222.53 L333.70,222.31 L334.20,222.28 L334.70,222.46 L335.20,221.81 L335.70,221.63 L336.20,221.99 L336.70,221.56 L337.20,221.33 L337.70,220.88 L338.20,220.97 L338.70,221.20 L339.20,221.35 L339.70,221.08 L340.20,221.23 L340.70,221.58 L341.20,221.06 L341.70,220.71 L342.20,220.46 L342.70,220.23 L343.20,220.04 L343.70,219.90 L344.20,219.47 L344.70,218.56 L345.20,218.02 L345.70,217.73 L346.20,217.58 L346.70,218.12 L347.20,218.13 L347.70,217.50 L348.20,216.86 L348.70,216.49 L349.20,216.34 L349.70,216.66 L350.20,216.44 L350.70,215.62 L351.20,214.90 L351.70,214.12 L352.20,213.90 L352.70,213.14 L353.20,212.34 L353.70,212.00 L354.20,212.03 L354.70,211.73 L355.20,211.01 L355.70,210.71 L356.20,210.45 L356.70,210.72 L357.20,211.54 L357.70,211.02 L358.20,210.47 L358.70,210.64 L359.20,209.98 L359.70,209.70 L360.20,209.74 L360.70,209.45 L361.20,209.78 L361.70,209.27 L362.20,208.67 L362.70,209.01 L363.20,208.56 L363.70,208.31 L364.20,208.44 L364.70,208.18 L365.20,207.80 L365.70,207.67 L366.20,206.82 L366.70,206.79 L367.20,207.66 L367.70,207.40 L368.20,207.01 L368.70,206.40 L369.20,206.12 L369.70,206.27 L370.20,206.15 L370.70,206.59 L371.20,206.54 L371.70,206.27 L372.20,206.00 L372.70,205.99 L373.20,206.48 L373.70,206.35 L374.20,206.06 L374.70,206.54 L375.20,206.21 L375.70,205.27 L376.20,205.18 L376.70,205.62 L377.20,206.36 L377.70,206.59 L378.20,206.66 L378.70,207.42 L379.20,208.80 L379.70,209.46 L380.20,209.99 L380.70,210.58 L381.20,210.10 L381.70,209.67 L382.20,209.52 L382.70,209.41 L383.20,208.61 L383.70,208.20 L384.20,208.11 L384.70,207.46 L385.20,207.54 L385.70,207.79 L386.20,207.76 L386.70,207.75 L387.20,208.15 L387.70,209.30 L388.20,210.39 L388.70,210.50 L389.20,210.55 L389.70,210.52 L390.20,210.47 L390.70,210.93 L391.20,210.94 L391.70,210.85 L392.20,211.34 L392.70,211.67 L393.20,211.49 L393.70,211.73 L394.20,211.93 L394.70,212.09 L395.20,212.15 L395.70,211.82 L396.20,211.86 L396.70,211.89 L397.20,211.69 L397.70,211.66 L398.20,212.08 L398.70,212.48 L399.20,212.79 L399.70,212.43 L400.20,212.27 L400.70,212.87 L401.20,213.31 L401.70,213.62 L402.20,213.78 L402.70,214.42 L403.20,214.92 L403.70,214.76 L404.20,215.35 L404.70,216.17 L405.20,215.95 L405.70,216.12 L406.20,216.27 L406.70,216.53 L407.20,216.83 L407.70,216.52 L408.20,216.64 L408.70,216.81 L409.20,217.10 L409.70,217.49 L410.20,217.59 L410.70,217.56 L411.20,216.79 L411.70,217.09 L412.20,217.67 L412.70,217.85 L413.20,218.74 L413.70,218.90 L414.20,218.67 L414.70,218.71 L415.20,218.93 L415.70,219.00 L416.20,219.05 L416.70,219.12 L417.20,219.73 L417.70,220.12 L418.20,220.22 L418.70,220.32 L419.20,220.26 L419.70,220.43 L420.20,220.67 L420.70,221.05 L421.20,221.13 L421.70,220.88 L422.20,220.74 L422.70,221.42 L423.20,221.63 L423.70,221.24 L424.20,221.75 L424.70,222.17 L425.20,222.01 L425.70,221.71 L426.20,222.22 L426.70,222.48 L427.20,222.10 L427.70,222.02 L428.20,221.60 L428.70,221.37 L429.20,221.89 L429.70,222.39 L430.20,222.30 L430.70,221.99 L431.20,221.77 L431.70,222.06 L432.20,222.14 L432.70,222.54 L433.20,223.27 L433.70,223.84 L434.20,223.86 L434.70,223.11 L435.20,222.77 L435.70,222.16 L436.20,222.33 L436.70,223.24 L437.20,223.73 L437.70,224.02 L438.20,224.03 L438.70,224.04 L439.20,224.17 L439.70,224.58 L440.20,224.26 L440.70,223.90 L441.20,223.94 L441.70,224.56" fill="none" stroke="#0a97fd" stroke-width="1.25" stroke-linejoin="round" stroke-linecap="round"/>
<path d="M272.70,229.84 L273.20,230.98 L273.70,231.75 L274.20,232.69 L274.70,233.76 L275.20,234.67 L275.70,235.55 L276.20,236.42 L276.70,237.17 L277.20,237.93 L277.70,238.70 L278.20,239.26 L278.70,239.88 L279.20,240.50 L279.70,241.19 L280.20,241.77 L280.70,242.23 L281.20,242.69 L281.70,242.92 L282.20,243.45 L282.70,243.90 L283.20,244.27 L283.70,244.78 L284.20,244.81 L284.70,244.86 L285.20,245.05 L285.70,245.02 L286.20,244.85 L286.70,244.87 L287.20,244.78 L287.70,244.53 L288.20,244.28 L288.70,244.04 L289.20,243.72 L289.70,243.32 L290.20,243.04 L290.70,242.58 L291.20,241.95 L291.70,241.28 L292.20,240.77 L292.70,240.34 L293.20,239.70 L293.70,239.00 L294.20,238.52 L294.70,238.32 L295.20,237.72 L295.70,237.02 L296.20,236.60 L296.70,235.80 L297.20,235.27 L297.70,234.96 L298.20,234.59 L298.70,234.15 L299.20,233.45 L299.70,233.00 L300.20,232.67 L300.70,232.24 L301.20,231.86 L301.70,231.47 L302.20,231.18 L302.70,231.17 L303.20,231.17 L303.70,230.94 L304.20,230.54 L304.70,230.39 L305.20,230.28 L305.70,230.14 L306.20,229.97 L306.70,229.61 L307.20,229.36 L307.70,229.23 L308.20,229.09 L308.70,228.94 L309.20,228.69 L309.70,228.31 L310.20,228.20 L310.70,228.08 L311.20,228.04 L311.70,228.14 L312.20,227.84 L312.70,227.81 L313.20,227.97 L313.70,227.80 L314.20,227.78 L314.70,227.87 L315.20,227.46 L315.70,227.28 L316.20,227.36 L316.70,227.21 L317.20,227.17 L317.70,226.98 L318.20,226.74 L318.70,226.66 L319.20,226.58 L319.70,226.60 L320.20,226.48 L320.70,226.34 L321.20,226.52 L321.70,226.59 L322.20,226.54 L322.70,226.31 L323.20,226.16 L323.70,226.27 L324.20,226.33 L324.70,226.31 L325.20,226.38 L325.70,226.42 L326.20,226.31 L326.70,226.31 L327.20,226.38 L327.70,226.33 L328.20,226.38 L328.70,226.50 L329.20,226.43 L329.70,226.43 L330.20,226.52 L330.70,226.69 L331.20,226.80 L331.70,226.80 L332.20,226.87 L332.70,226.93 L333.20,227.05 L333.70,227.12 L334.20,226.86 L334.70,227.10 L335.20,227.45 L335.70,227.33 L336.20,227.45 L336.70,227.66 L337.20,228.09 L337.70,228.44 L338.20,228.27 L338.70,228.50 L339.20,228.85 L339.70,229.24 L340.20,229.41 L340.70,229.21 L341.20,229.57 L341.70,230.01 L342.20,230.19 L342.70,230.23 L343.20,230.55 L343.70,231.20 L344.20,231.21 L344.70,231.42 L345.20,231.83 L345.70,232.23 L346.20,232.61 L346.70,232.61 L347.20,232.94 L347.70,233.27 L348.20,233.34 L348.70,233.58 L349.20,233.80 L349.70,233.73 L350.20,234.18 L350.70,234.49 L351.20,234.36 L351.70,234.58 L352.20,234.62 L352.70,234.58 L353.20,234.83 L353.70,235.07 L354.20,235.28 L354.70,235.62 L355.20,235.74 L355.70,235.87 L356.20,236.19 L356.70,236.24 L357.20,236.43 L357.70,236.68 L358.20,237.00 L358.70,237.39 L359.20,237.51 L359.70,237.56 L360.20,237.80 L360.70,238.08 L361.20,238.35 L361.70,238.62 L362.20,238.66 L362.70,238.99 L363.20,239.38 L363.70,239.44 L364.20,239.71 L364.70,239.94 L365.20,239.96 L365.70,240.14 L366.20,240.19 L366.70,240.17 L367.20,240.23 L367.70,240.41 L368.20,240.55 L368.70,240.31 L369.20,240.26 L369.70,240.22 L370.20,240.02 L370.70,240.06 L371.20,239.99 L371.70,240.10 L372.20,240.06 L372.70,239.64 L373.20,239.73 L373.70,239.78 L374.20,239.58 L374.70,239.29 L375.20,239.40 L375.70,239.78 L376.20,239.74 L376.70,239.73 L377.20,239.80 L377.70,239.67 L378.20,239.56 L378.70,239.45 L379.20,239.28 L379.70,239.44 L380.20,239.47 L380.70,239.17 L381.20,239.10 L381.70,239.15 L382.20,238.93 L382.70,238.90 L383.20,238.83 L383.70,238.50 L384.20,238.30 L384.70,238.52 L385.20,238.34 L385.70,238.04 L386.20,238.12 L386.70,238.02 L387.20,237.68 L387.70,237.44 L388.20,237.44 L388.70,237.43 L389.20,237.21 L389.70,236.86 L390.20,236.90 L390.70,236.99 L391.20,236.78 L391.70,236.45 L392.20,236.30 L392.70,236.22 L393.20,236.12 L393.70,235.82 L394.20,235.59 L394.70,235.55 L395.20,235.27 L395.70,235.16 L396.20,235.14 L396.70,234.93 L397.20,234.83 L397.70,234.58 L398.20,234.40 L398.70,234.46 L399.20,234.36 L399.70,234.30 L400.20,234.01 L400.70,233.61 L401.20,233.63 L401.70,233.71 L402.20,233.78 L402.70,233.68 L403.20,233.23 L403.70,233.12 L404.20,233.00 L404.70,232.63 L405.20,232.87 L405.70,232.94 L406.20,232.61 L406.70,232.51 L407.20,232.50 L407.70,232.34 L408.20,232.15 L408.70,231.88 L409.20,231.48 L409.70,231.62 L410.20,231.80 L410.70,231.57 L411.20,231.32 L411.70,231.16 L412.20,230.93 L412.70,230.96 L413.20,230.98 L413.70,230.75 L414.20,230.59 L414.70,230.53 L415.20,230.42 L415.70,230.26 L416.20,229.96 L416.70,229.81 L417.20,230.04 L417.70,229.81 L418.20,229.44 L418.70,229.47 L419.20,229.46 L419.70,229.32 L420.20,228.93 L420.70,228.80 L421.20,228.74 L421.70,228.49 L422.20,228.57 L422.70,228.53 L423.20,228.46 L423.70,228.72 L424.20,228.62 L424.70,228.27 L425.20,228.00 L425.70,227.76 L426.20,227.65 L426.70,227.57 L427.20,227.48 L427.70,227.38 L428.20,227.39 L428.70,227.28 L429.20,227.08 L429.70,226.97 L430.20,227.11 L430.70,227.20 L431.20,227.20 L431.70,227.26 L432.20,227.06 L432.70,226.97 L433.20,226.81 L433.70,226.93 L434.20,227.16 L434.70,226.85 L435.20,226.55 L435.70,226.57 L436.20,226.46 L436.70,226.29 L437.20,226.53 L437.70,226.59 L438.20,226.42 L438.70,226.49 L439.20,226.40 L439.70,226.30 L440.20,226.34 L440.70,226.20 L441.20,226.28 L441.70,226.25" fill="none" stroke="#ff3b44" stroke-width="1.25" stroke-linejoin="round" stroke-linecap="round"/>
<path d="M272.70,287.44 L273.20,287.67 L273.70,287.38 L274.20,287.53 L274.70,287.23 L275.20,287.23 L275.70,287.21 L276.20,287.43 L276.70,287.46 L277.20,287.59 L277.70,287.46 L278.20,287.63 L278.70,287.57 L279.20,287.73 L279.70,287.55 L280.20,287.70 L280.70,287.72 L281.20,287.88 L281.70,287.62 L282.20,287.40 L282.70,287.32 L283.20,287.49 L283.70,287.64 L284.20,287.68 L284.70,287.57 L285.20,287.78 L285.70,287.87 L286.20,287.87 L286.70,287.85 L287.20,287.93 L287.70,287.99 L288.20,287.79 L288.70,287.58 L289.20,287.45 L289.70,287.47 L290.20,287.61 L290.70,287.76 L291.20,287.87 L291.70,287.92 L292.20,287.90 L292.70,287.74 L293.20,287.49 L293.70,287.42 L294.20,287.42 L294.70,287.58 L295.20,287.60 L295.70,287.57 L296.20,287.53 L296.70,287.54 L297.20,287.69 L297.70,287.73 L298.20,287.80 L298.70,287.76 L299.20,287.72 L299.70,287.68 L300.20,287.89 L300.70,287.93 L301.20,288.05 L301.70,287.99 L302.20,288.22 L302.70,288.01 L303.20,288.08 L303.70,287.94 L304.20,287.99 L304.70,287.76 L305.20,287.80 L305.70,287.83 L306.20,287.82 L306.70,287.88 L307.20,287.79 L307.70,287.68 L308.20,287.62 L308.70,287.75 L309.20,287.95 L309.70,287.74 L310.20,287.76 L310.70,287.67 L311.20,287.94 L311.70,287.68 L312.20,287.63 L312.70,287.40 L313.20,287.34 L313.70,287.22 L314.20,287.35 L314.70,287.44 L315.20,287.42 L315.70,287.37 L316.20,287.51 L316.70,287.67 L317.20,287.48 L317.70,287.36 L318.20,287.35 L318.70,287.35 L319.20,287.27 L319.70,287.25 L320.20,287.47 L320.70,287.43 L321.20,287.07 L321.70,286.76 L322.20,286.79 L322.70,287.05 L323.20,287.28 L323.70,287.39 L324.20,287.35 L324.70,287.32 L325.20,287.26 L325.70,287.35 L326.20,287.30 L326.70,287.70 L327.20,287.83 L327.70,287.84 L328.20,287.49 L328.70,287.39 L329.20,287.35 L329.70,287.41 L330.20,287.42 L330.70,287.72 L331.20,287.80 L331.70,287.86 L332.20,287.71 L332.70,287.74 L333.20,287.93 L333.70,288.17 L334.20,288.55 L334.70,288.64 L335.20,288.92 L335.70,288.98 L336.20,289.20 L336.70,289.03 L337.20,289.01 L337.70,289.22 L338.20,289.70 L338.70,289.97 L339.20,290.07 L339.70,289.96 L340.20,289.96 L340.70,289.84 L341.20,289.99 L341.70,290.07 L342.20,290.11 L342.70,289.98 L343.20,290.00 L343.70,290.06 L344.20,290.00 L344.70,290.13 L345.20,290.12 L345.70,290.21 L346.20,290.18 L346.70,290.26 L347.20,290.25 L347.70,290.15 L348.20,289.94 L348.70,289.88 L349.20,289.59 L349.70,289.83 L350.20,289.69 L350.70,290.00 L351.20,289.79 L351.70,289.88 L352.20,289.79 L352.70,289.91 L353.20,290.07 L353.70,290.28 L354.20,290.28 L354.70,290.31 L355.20,290.07 L355.70,290.10 L356.20,290.03 L356.70,290.04 L357.20,289.96 L357.70,289.94 L358.20,290.00 L358.70,290.06 L359.20,290.01 L359.70,289.91 L360.20,289.95 L360.70,289.82 L361.20,289.84 L361.70,289.92 L362.20,289.82 L362.70,289.81 L363.20,289.72 L363.70,289.83 L364.20,290.17 L364.70,289.83 L365.20,290.15 L365.70,290.04 L366.20,290.41 L366.70,290.23 L367.20,290.11 L367.70,289.92 L368.20,290.03 L368.70,289.87 L369.20,289.94 L369.70,289.96 L370.20,289.96 L370.70,289.95 L371.20,289.86 L371.70,289.84 L372.20,290.00 L372.70,290.01 L373.20,289.99 L373.70,289.86 L374.20,289.73 L374.70,289.81 L375.20,289.81 L375.70,289.80 L376.20,289.95 L376.70,289.86 L377.20,290.01 L377.70,289.89 L378.20,290.03 L378.70,289.85 L379.20,289.78 L379.70,289.55 L380.20,289.64 L380.70,289.77 L381.20,290.09 L381.70,290.14 L382.20,290.05 L382.70,289.79 L383.20,289.67 L383.70,289.62 L384.20,289.78 L384.70,289.82 L385.20,289.72 L385.70,289.48 L386.20,289.52 L386.70,289.62 L387.20,289.66 L387.70,289.64 L388.20,289.56 L388.70,289.55 L389.20,289.38 L389.70,289.22 L390.20,289.34 L390.70,289.26 L391.20,289.41 L391.70,289.24 L392.20,289.44 L392.70,289.49 L393.20,289.57 L393.70,289.32 L394.20,289.32 L394.70,289.16 L395.20,289.37 L395.70,289.42 L396.20,289.57 L396.70,289.75 L397.20,289.77 L397.70,289.83 L398.20,289.63 L398.70,289.56 L399.20,289.60 L399.70,289.69 L400.20,289.58 L400.70,289.59 L401.20,289.53 L401.70,289.76 L402.20,289.70 L402.70,289.52 L403.20,289.30 L403.70,289.44 L404.20,289.59 L404.70,289.57 L405.20,289.42 L405.70,289.35 L406.20,289.31 L406.70,289.03 L407.20,288.90 L407.70,289.11 L408.20,289.33 L408.70,289.46 L409.20,289.45 L409.70,289.51 L410.20,289.30 L410.70,289.22 L411.20,289.06 L411.70,289.13 L412.20,289.09 L412.70,289.14 L413.20,289.22 L413.70,289.10 L414.20,289.04 L414.70,289.26 L415.20,289.28 L415.70,289.13 L416.20,288.92 L416.70,289.07 L417.20,289.27 L417.70,289.10 L418.20,289.12 L418.70,288.97 L419.20,288.94 L419.70,288.75 L420.20,288.80 L420.70,288.97 L421.20,289.08 L421.70,289.07 L422.20,289.08 L422.70,289.00 L423.20,289.08 L423.70,288.82 L424.20,288.63 L424.70,288.61 L425.20,288.59 L425.70,288.71 L426.20,288.60 L426.70,288.68 L427.20,288.64 L427.70,288.78 L428.20,288.56 L428.70,288.68 L429.20,288.76 L429.70,289.01 L430.20,288.90 L430.70,288.72 L431.20,288.89 L431.70,288.75 L432.20,288.67 L432.70,288.44 L433.20,288.61 L433.70,288.60 L434.20,288.68 L434.70,288.56 L435.20,288.53 L435.70,288.38 L436.20,288.34 L436.70,288.30 L437.20,288.34 L437.70,288.27 L438.20,288.44 L438.70,288.42 L439.20,288.39 L439.70,288.32 L440.20,288.25 L440.70,288.43 L441.20,288.30 L441.70,288.36" fill="none" stroke="#0a97fd" stroke-width="1.15" stroke-linejoin="round" stroke-linecap="round"/>
<path d="M272.70,305.24 L273.20,305.45 L273.70,305.69 L274.20,306.13 L274.70,306.19 L275.20,306.41 L275.70,306.43 L276.20,306.71 L276.70,306.68 L277.20,306.94 L277.70,307.10 L278.20,307.53 L278.70,307.44 L279.20,307.56 L279.70,307.46 L280.20,307.53 L280.70,307.69 L281.20,307.73 L281.70,307.72 L282.20,307.65 L282.70,307.76 L283.20,307.84 L283.70,307.72 L284.20,307.50 L284.70,307.43 L285.20,307.43 L285.70,307.41 L286.20,307.22 L286.70,307.19 L287.20,307.20 L287.70,307.32 L288.20,307.27 L288.70,307.35 L289.20,307.14 L289.70,307.38 L290.20,307.17 L290.70,307.13 L291.20,306.65 L291.70,306.16 L292.20,306.00 L292.70,305.97 L293.20,306.36 L293.70,306.13 L294.20,306.19 L294.70,305.85 L295.20,305.94 L295.70,305.35 L296.20,305.26 L296.70,305.01 L297.20,305.21 L297.70,305.06 L298.20,304.84 L298.70,304.72 L299.20,304.63 L299.70,304.63 L300.20,304.45 L300.70,304.30 L301.20,304.03 L301.70,303.59 L302.20,303.15 L302.70,303.12 L303.20,303.20 L303.70,303.24 L304.20,302.97 L304.70,302.83 L305.20,302.76 L305.70,302.71 L306.20,302.59 L306.70,302.76 L307.20,302.78 L307.70,302.75 L308.20,302.35 L308.70,302.21 L309.20,302.31 L309.70,302.48 L310.20,302.49 L310.70,302.37 L311.20,302.20 L311.70,302.05 L312.20,302.10 L312.70,302.09 L313.20,302.36 L313.70,302.03 L314.20,301.85 L314.70,301.54 L315.20,301.44 L315.70,301.15 L316.20,300.80 L316.70,300.66 L317.20,300.67 L317.70,300.59 L318.20,300.52 L318.70,300.42 L319.20,300.31 L319.70,300.05 L320.20,299.76 L320.70,299.62 L321.20,299.54 L321.70,299.41 L322.20,299.23 L322.70,298.93 L323.20,298.61 L323.70,298.29 L324.20,298.24 L324.70,298.27 L325.20,298.38 L325.70,298.15 L326.20,298.03 L326.70,297.83 L327.20,297.74 L327.70,297.39 L328.20,297.05 L328.70,296.77 L329.20,296.56 L329.70,296.48 L330.20,296.44 L330.70,296.39 L331.20,296.48 L331.70,296.32 L332.20,296.38 L332.70,296.21 L333.20,296.27 L333.70,296.46 L334.20,296.65 L334.70,297.06 L335.20,297.27 L335.70,297.51 L336.20,297.50 L336.70,297.47 L337.20,297.57 L337.70,297.66 L338.20,298.04 L338.70,298.21 L339.20,298.63 L339.70,298.78 L340.20,299.04 L340.70,299.07 L341.20,299.18 L341.70,299.33 L342.20,299.57 L342.70,299.62 L343.20,299.75 L343.70,300.05 L344.20,300.22 L344.70,300.23 L345.20,299.95 L345.70,299.84 L346.20,300.00 L346.70,300.07 L347.20,300.24 L347.70,300.29 L348.20,300.51 L348.70,300.36 L349.20,300.24 L349.70,300.00 L350.20,300.10 L350.70,299.99 L351.20,299.88 L351.70,299.97 L352.20,299.94 L352.70,299.95 L353.20,299.88 L353.70,299.89 L354.20,299.88 L354.70,299.78 L355.20,299.87 L355.70,299.87 L356.20,299.84 L356.70,299.57 L357.20,299.50 L357.70,299.41 L358.20,299.53 L358.70,299.61 L359.20,299.53 L359.70,299.54 L360.20,299.60 L360.70,299.86 L361.20,299.79 L361.70,299.88 L362.20,299.82 L362.70,299.83 L363.20,299.62 L363.70,299.72 L364.20,299.98 L364.70,300.25 L365.20,300.31 L365.70,300.12 L366.20,299.97 L366.70,299.89 L367.20,300.03 L367.70,299.95 L368.20,300.09 L368.70,300.20 L369.20,300.41 L369.70,300.47 L370.20,300.34 L370.70,300.23 L371.20,300.15 L371.70,300.39 L372.20,300.68 L372.70,300.72 L373.20,300.75 L373.70,300.63 L374.20,300.86 L374.70,300.81 L375.20,300.82 L375.70,300.77 L376.20,300.67 L376.70,300.64 L377.20,300.43 L377.70,300.56 L378.20,300.68 L378.70,300.84 L379.20,300.80 L379.70,300.97 L380.20,300.96 L380.70,300.95 L381.20,300.96 L381.70,301.17 L382.20,301.30 L382.70,301.02 L383.20,300.83 L383.70,300.88 L384.20,301.09 L384.70,301.34 L385.20,301.15 L385.70,301.24 L386.20,301.04 L386.70,301.34 L387.20,301.29 L387.70,301.49 L388.20,301.30 L388.70,301.19 L389.20,300.99 L389.70,301.02 L390.20,301.09 L390.70,301.35 L391.20,301.58 L391.70,301.75 L392.20,301.55 L392.70,301.42 L393.20,301.36 L393.70,301.65 L394.20,301.72 L394.70,301.88 L395.20,301.71 L395.70,301.50 L396.20,301.40 L396.70,301.36 L397.20,301.64 L397.70,301.76 L398.20,301.82 L398.70,301.77 L399.20,301.94 L399.70,301.95 L400.20,301.92 L400.70,301.76 L401.20,301.81 L401.70,301.88 L402.20,301.97 L402.70,302.24 L403.20,302.12 L403.70,302.07 L404.20,301.90 L404.70,302.09 L405.20,302.07 L405.70,302.04 L406.20,302.15 L406.70,302.12 L407.20,302.14 L407.70,302.04 L408.20,302.10 L408.70,302.09 L409.20,302.20 L409.70,302.19 L410.20,302.22 L410.70,302.11 L411.20,302.01 L411.70,301.90 L412.20,301.80 L412.70,301.92 L413.20,301.94 L413.70,301.94 L414.20,301.94 L414.70,302.07 L415.20,302.00 L415.70,302.15 L416.20,302.10 L416.70,302.27 L417.20,302.20 L417.70,302.21 L418.20,302.16 L418.70,302.27 L419.20,302.15 L419.70,302.21 L420.20,302.07 L420.70,302.07 L421.20,302.07 L421.70,302.02 L422.20,302.38 L422.70,302.30 L423.20,302.25 L423.70,302.07 L424.20,302.17 L424.70,302.04 L425.20,302.01 L425.70,302.00 L426.20,302.16 L426.70,302.23 L427.20,302.31 L427.70,302.29 L428.20,302.19 L428.70,301.96 L429.20,301.89 L429.70,301.86 L430.20,301.91 L430.70,301.92 L431.20,301.79 L431.70,301.97 L432.20,302.16 L432.70,302.18 L433.20,302.04 L433.70,301.76 L434.20,301.91 L434.70,301.89 L435.20,301.89 L435.70,301.71 L436.20,301.65 L436.70,301.51 L437.20,301.58 L437.70,301.46 L438.20,301.59 L438.70,301.50 L439.20,301.66 L439.70,301.57 L440.20,301.63 L440.70,301.39 L441.20,301.42 L441.70,301.29" fill="none" stroke="#ff3b44" stroke-width="1.15" stroke-linejoin="round" stroke-linecap="round"/>
<line x1="276" y1="266.3" x2="288.0" y2="266.3" stroke="#0a97fd" stroke-width="1.3"/>
<text x="291" y="270.3" font-size="10.7" text-anchor="start" font-weight="normal" >Rh123@2PACz@PVA@D-PLA</text>
<line x1="276" y1="318.5" x2="288.0" y2="318.5" stroke="#ff3b44" stroke-width="1.3"/>
<text x="291" y="322.6" font-size="10.7" text-anchor="start" font-weight="normal" >Rh123@2PACz@PVA@L-PLA</text>
<text x="473.9" y="188.6" font-size="10.2" text-anchor="start" font-weight="bold" >f</text>
<rect x="506.6" y="188.7" width="169.89999999999998" height="138.2" fill="none" stroke="#111" stroke-width="1.4"/>
<line x1="506.6" y1="257.5" x2="676.5" y2="257.5" stroke="#111" stroke-width="1.4"/>
<line x1="503.8" y1="204" x2="506.6" y2="204" stroke="#111" stroke-width="1.4"/>
<line x1="503.8" y1="225.4" x2="506.6" y2="225.4" stroke="#111" stroke-width="1.4"/>
<line x1="503.8" y1="246.8" x2="506.6" y2="246.8" stroke="#111" stroke-width="1.4"/>
<line x1="504.90000000000003" y1="214.7" x2="506.6" y2="214.7" stroke="#111" stroke-width="1.4"/>
<line x1="504.90000000000003" y1="236.1" x2="506.6" y2="236.1" stroke="#111" stroke-width="1.4"/>
<text x="501.0" y="208.9" font-size="10.7" text-anchor="end" font-weight="normal" >1</text>
<text x="501.0" y="230.3" font-size="10.7" text-anchor="end" font-weight="normal" >0</text>
<text x="501.0" y="251.70000000000002" font-size="10.7" text-anchor="end" font-weight="normal" >-1</text>
<line x1="503.8" y1="266.6" x2="506.6" y2="266.6" stroke="#111" stroke-width="1.4"/>
<line x1="503.8" y1="292.6" x2="506.6" y2="292.6" stroke="#111" stroke-width="1.4"/>
<line x1="503.8" y1="318.6" x2="506.6" y2="318.6" stroke="#111" stroke-width="1.4"/>
<line x1="504.90000000000003" y1="279.6" x2="506.6" y2="279.6" stroke="#111" stroke-width="1.4"/>
<line x1="504.90000000000003" y1="305.6" x2="506.6" y2="305.6" stroke="#111" stroke-width="1.4"/>
<text x="501.0" y="271.5" font-size="10.7" text-anchor="end" font-weight="normal" >1.5</text>
<text x="501.0" y="297.5" font-size="10.7" text-anchor="end" font-weight="normal" >0</text>
<text x="501.0" y="323.5" font-size="10.7" text-anchor="end" font-weight="normal" >-1.5</text>
<line x1="528.6" y1="326.9" x2="528.6" y2="329.79999999999995" stroke="#111" stroke-width="1.4"/>
<line x1="565.2" y1="326.9" x2="565.2" y2="329.79999999999995" stroke="#111" stroke-width="1.4"/>
<line x1="601.6" y1="326.9" x2="601.6" y2="329.79999999999995" stroke="#111" stroke-width="1.4"/>
<line x1="638.1" y1="326.9" x2="638.1" y2="329.79999999999995" stroke="#111" stroke-width="1.4"/>
<line x1="674.5" y1="326.9" x2="674.5" y2="329.79999999999995" stroke="#111" stroke-width="1.4"/>
<line x1="510.6" y1="326.9" x2="510.6" y2="328.7" stroke="#111" stroke-width="1.4"/>
<line x1="546.9" y1="326.9" x2="546.9" y2="328.7" stroke="#111" stroke-width="1.4"/>
<line x1="583.4" y1="326.9" x2="583.4" y2="328.7" stroke="#111" stroke-width="1.4"/>
<line x1="619.9" y1="326.9" x2="619.9" y2="328.7" stroke="#111" stroke-width="1.4"/>
<line x1="656.3" y1="326.9" x2="656.3" y2="328.7" stroke="#111" stroke-width="1.4"/>
<text x="528.6" y="341.9" font-size="10.7" text-anchor="middle" font-weight="normal" >400</text>
<text x="565.2" y="341.9" font-size="10.7" text-anchor="middle" font-weight="normal" >500</text>
<text x="601.6" y="341.9" font-size="10.7" text-anchor="middle" font-weight="normal" >600</text>
<text x="638.1" y="341.9" font-size="10.7" text-anchor="middle" font-weight="normal" >700</text>
<text x="674.5" y="341.9" font-size="10.7" text-anchor="middle" font-weight="normal" >800</text>
<text x="591.5" y="352.9" font-size="10.7" text-anchor="middle" font-weight="normal" >Wavelength (nm)</text>
<text transform="translate(473.0,223.2) rotate(-90)" font-size="10.7" text-anchor="middle" dominant-baseline="central">CPL (mdeg)</text>
<text transform="translate(472.8,291.8) rotate(-90)" font-size="10.7" text-anchor="middle" dominant-baseline="central"><tspan font-style="italic">g</tspan><tspan font-size="5.6" dy="4.0" dx="0.4">lum</tspan><tspan dy="-4.0"> (×10</tspan><tspan font-size="6.5" dy="-3.5">-2</tspan><tspan dy="3.5">)</tspan></text>
<path d="M506.70,225.04 L507.20,224.73 L507.70,224.41 L508.20,224.17 L508.70,223.21 L509.20,222.58 L509.70,222.22 L510.20,221.92 L510.70,221.23 L511.20,220.05 L511.70,219.46 L512.20,219.43 L512.70,218.86 L513.20,217.86 L513.70,217.47 L514.20,216.46 L514.70,215.99 L515.20,216.10 L515.70,215.65 L516.20,215.24 L516.70,214.73 L517.20,214.01 L517.70,213.45 L518.20,212.99 L518.70,213.12 L519.20,212.88 L519.70,212.45 L520.20,212.27 L520.70,212.15 L521.20,212.82 L521.70,212.91 L522.20,212.52 L522.70,212.98 L523.20,213.31 L523.70,214.02 L524.20,213.74 L524.70,213.57 L525.20,214.57 L525.70,214.46 L526.20,214.39 L526.70,215.07 L527.20,215.94 L527.70,215.97 L528.20,215.60 L528.70,216.52 L529.20,217.77 L529.70,217.92 L530.20,217.47 L530.70,218.35 L531.20,219.25 L531.70,219.51 L532.20,219.81 L532.70,219.67 L533.20,219.78 L533.70,220.44 L534.20,221.09 L534.70,220.37 L535.20,219.95 L535.70,221.08 L536.20,221.36 L536.70,220.73 L537.20,220.95 L537.70,221.40 L538.20,221.50 L538.70,221.53 L539.20,221.60 L539.70,221.73 L540.20,222.02 L540.70,222.05 L541.20,222.01 L541.70,222.29 L542.20,222.80 L542.70,223.03 L543.20,222.79 L543.70,222.93 L544.20,223.15 L544.70,223.38 L545.20,223.49 L545.70,223.75 L546.20,224.03 L546.70,223.65 L547.20,223.28 L547.70,223.56 L548.20,223.85 L548.70,223.67 L549.20,223.23 L549.70,222.86 L550.20,223.37 L550.70,224.07 L551.20,224.23 L551.70,223.77 L552.20,223.87 L552.70,224.10 L553.20,223.97 L553.70,224.24 L554.20,223.97 L554.70,223.74 L555.20,223.44 L555.70,223.36 L556.20,223.42 L556.70,223.75 L557.20,224.18 L557.70,224.27 L558.20,224.30 L558.70,223.87 L559.20,223.82 L559.70,223.82 L560.20,223.82 L560.70,223.92 L561.20,223.45 L561.70,223.29 L562.20,223.47 L562.70,223.30 L563.20,223.38 L563.70,223.72 L564.20,223.21 L564.70,222.47 L565.20,221.77 L565.70,221.57 L566.20,221.76 L566.70,221.00 L567.20,220.93 L567.70,221.37 L568.20,220.90 L568.70,220.44 L569.20,220.17 L569.70,220.23 L570.20,219.87 L570.70,219.37 L571.20,219.98 L571.70,219.80 L572.20,219.15 L572.70,218.78 L573.20,218.00 L573.70,217.58 L574.20,217.46 L574.70,216.66 L575.20,216.07 L575.70,216.05 L576.20,215.66 L576.70,214.41 L577.20,213.41 L577.70,212.96 L578.20,213.08 L578.70,213.29 L579.20,212.87 L579.70,212.20 L580.20,211.44 L580.70,211.39 L581.20,211.39 L581.70,210.84 L582.20,210.50 L582.70,210.48 L583.20,210.01 L583.70,208.95 L584.20,207.65 L584.70,207.13 L585.20,207.07 L585.70,206.64 L586.20,206.33 L586.70,206.29 L587.20,206.76 L587.70,207.16 L588.20,207.27 L588.70,207.28 L589.20,207.26 L589.70,207.58 L590.20,207.23 L590.70,206.35 L591.20,205.81 L591.70,205.66 L592.20,205.07 L592.70,204.56 L593.20,204.16 L593.70,203.70 L594.20,203.43 L594.70,203.43 L595.20,204.22 L595.70,204.56 L596.20,204.51 L596.70,204.73 L597.20,204.68 L597.70,204.58 L598.20,204.72 L598.70,205.03 L599.20,205.20 L599.70,205.23 L600.20,205.23 L600.70,204.99 L601.20,204.97 L601.70,205.01 L602.20,205.41 L602.70,205.23 L603.20,205.04 L603.70,206.27 L604.20,206.37 L604.70,205.63 L605.20,205.87 L605.70,206.64 L606.20,206.79 L606.70,206.82 L607.20,207.15 L607.70,207.31 L608.20,208.56 L608.70,209.19 L609.20,208.75 L609.70,208.97 L610.20,209.37 L610.70,209.48 L611.20,209.19 L611.70,208.62 L612.20,207.63 L612.70,207.49 L613.20,207.82 L613.70,207.86 L614.20,207.95 L614.70,208.35 L615.20,209.07 L615.70,209.73 L616.20,210.05 L616.70,210.50 L617.20,211.19 L617.70,211.15 L618.20,211.19 L618.70,211.46 L619.20,212.04 L619.70,211.80 L620.20,211.67 L620.70,212.05 L621.20,212.19 L621.70,212.97 L622.20,213.09 L622.70,213.08 L623.20,213.20 L623.70,213.83 L624.20,214.46 L624.70,214.45 L625.20,214.10 L625.70,213.74 L626.20,214.54 L626.70,214.96 L627.20,214.83 L627.70,215.16 L628.20,215.12 L628.70,215.43 L629.20,215.95 L629.70,216.08 L630.20,216.11 L630.70,216.32 L631.20,216.51 L631.70,216.82 L632.20,217.48 L632.70,217.67 L633.20,217.72 L633.70,217.87 L634.20,217.29 L634.70,217.56 L635.20,218.38 L635.70,218.42 L636.20,218.64 L636.70,218.49 L637.20,218.64 L637.70,219.35 L638.20,220.04 L638.70,219.91 L639.20,219.52 L639.70,220.21 L640.20,220.37 L640.70,220.67 L641.20,221.03 L641.70,220.43 L642.20,220.78 L642.70,221.53 L643.20,221.04 L643.70,221.12 L644.20,221.51 L644.70,221.59 L645.20,221.66 L645.70,221.00 L646.20,221.31 L646.70,222.02 L647.20,222.50 L647.70,222.78 L648.20,222.53 L648.70,222.13 L649.20,221.91 L649.70,221.99 L650.20,222.00 L650.70,222.09 L651.20,221.75 L651.70,221.95 L652.20,222.65 L652.70,223.33 L653.20,223.60 L653.70,222.93 L654.20,222.96 L654.70,222.85 L655.20,222.63 L655.70,222.54 L656.20,223.11 L656.70,223.79 L657.20,223.20 L657.70,223.09 L658.20,223.67 L658.70,223.86 L659.20,223.77 L659.70,223.48 L660.20,223.27 L660.70,223.55 L661.20,223.98 L661.70,223.79 L662.20,223.32 L662.70,223.85 L663.20,223.93 L663.70,223.95 L664.20,224.28 L664.70,224.27 L665.20,224.68 L665.70,224.67 L666.20,224.47 L666.70,224.11 L667.20,223.79 L667.70,224.21 L668.20,224.80 L668.70,225.03 L669.20,225.26 L669.70,225.03 L670.20,224.55 L670.70,224.76 L671.20,224.75 L671.70,224.52 L672.20,224.30" fill="none" stroke="#0a97fd" stroke-width="1.25" stroke-linejoin="round" stroke-linecap="round"/>
<path d="M506.70,225.31 L507.20,226.28 L507.70,227.38 L508.20,228.49 L508.70,229.79 L509.20,231.04 L509.70,232.14 L510.20,233.17 L510.70,234.08 L511.20,235.88 L511.70,237.00 L512.20,237.92 L512.70,239.09 L513.20,239.57 L513.70,240.62 L514.20,242.11 L514.70,242.73 L515.20,243.62 L515.70,244.40 L516.20,244.58 L516.70,244.98 L517.20,245.05 L517.70,245.49 L518.20,245.24 L518.70,244.83 L519.20,245.26 L519.70,244.56 L520.20,243.84 L520.70,244.23 L521.20,244.34 L521.70,244.14 L522.20,244.32 L522.70,243.94 L523.20,243.21 L523.70,242.41 L524.20,242.34 L524.70,242.37 L525.20,242.01 L525.70,241.86 L526.20,241.10 L526.70,241.01 L527.20,241.13 L527.70,240.50 L528.20,239.53 L528.70,238.75 L529.20,238.35 L529.70,237.80 L530.20,237.14 L530.70,236.79 L531.20,236.56 L531.70,236.07 L532.20,235.49 L532.70,235.27 L533.20,235.01 L533.70,233.76 L534.20,233.20 L534.70,233.39 L535.20,233.36 L535.70,232.95 L536.20,232.35 L536.70,231.94 L537.20,231.81 L537.70,231.56 L538.20,231.00 L538.70,230.67 L539.20,230.66 L539.70,230.45 L540.20,229.73 L540.70,229.74 L541.20,229.72 L541.70,229.44 L542.20,229.45 L542.70,229.41 L543.20,229.35 L543.70,228.78 L544.20,228.33 L544.70,228.00 L545.20,228.22 L545.70,228.42 L546.20,228.20 L546.70,227.89 L547.20,227.02 L547.70,227.28 L548.20,227.61 L548.70,227.18 L549.20,227.05 L549.70,227.03 L550.20,227.01 L550.70,226.42 L551.20,226.43 L551.70,226.55 L552.20,226.12 L552.70,226.50 L553.20,226.70 L553.70,226.18 L554.20,225.52 L554.70,225.56 L555.20,226.01 L555.70,225.91 L556.20,225.48 L556.70,225.29 L557.20,225.24 L557.70,225.42 L558.20,225.82 L558.70,225.96 L559.20,225.60 L559.70,225.42 L560.20,225.67 L560.70,225.51 L561.20,225.39 L561.70,226.05 L562.20,226.29 L562.70,226.25 L563.20,226.38 L563.70,226.50 L564.20,226.55 L564.70,226.86 L565.20,227.81 L565.70,228.58 L566.20,228.88 L566.70,228.92 L567.20,229.04 L567.70,229.15 L568.20,229.51 L568.70,230.17 L569.20,230.45 L569.70,230.93 L570.20,231.29 L570.70,231.09 L571.20,231.45 L571.70,231.82 L572.20,232.07 L572.70,232.99 L573.20,233.55 L573.70,233.67 L574.20,234.27 L574.70,234.80 L575.20,234.77 L575.70,235.11 L576.20,235.64 L576.70,235.72 L577.20,236.10 L577.70,236.19 L578.20,236.36 L578.70,237.12 L579.20,237.93 L579.70,238.41 L580.20,238.80 L580.70,239.63 L581.20,240.49 L581.70,240.96 L582.20,241.41 L582.70,241.60 L583.20,241.68 L583.70,242.27 L584.20,242.72 L584.70,242.99 L585.20,243.83 L585.70,244.29 L586.20,244.07 L586.70,244.50 L587.20,245.28 L587.70,245.30 L588.20,245.18 L588.70,245.05 L589.20,244.65 L589.70,244.55 L590.20,244.57 L590.70,245.05 L591.20,244.78 L591.70,244.68 L592.20,244.65 L592.70,244.21 L593.20,244.56 L593.70,244.72 L594.20,244.59 L594.70,244.21 L595.20,244.48 L595.70,244.96 L596.20,245.80 L596.70,246.31 L597.20,246.03 L597.70,245.90 L598.20,245.71 L598.70,245.60 L599.20,245.78 L599.70,245.84 L600.20,245.57 L600.70,245.29 L601.20,244.87 L601.70,245.10 L602.20,244.81 L602.70,243.94 L603.20,243.99 L603.70,243.87 L604.20,243.42 L604.70,243.58 L605.20,243.23 L605.70,242.96 L606.20,242.75 L606.70,242.65 L607.20,242.88 L607.70,242.28 L608.20,241.78 L608.70,241.54 L609.20,241.47 L609.70,241.73 L610.20,241.23 L610.70,241.02 L611.20,240.89 L611.70,240.34 L612.20,240.07 L612.70,240.52 L613.20,240.73 L613.70,240.16 L614.20,239.82 L614.70,239.81 L615.20,239.32 L615.70,238.92 L616.20,239.64 L616.70,239.36 L617.20,238.69 L617.70,238.71 L618.20,238.33 L618.70,237.98 L619.20,238.13 L619.70,237.92 L620.20,237.54 L620.70,237.17 L621.20,236.89 L621.70,236.70 L622.20,236.68 L622.70,236.57 L623.20,235.97 L623.70,235.07 L624.20,235.07 L624.70,235.55 L625.20,235.00 L625.70,234.23 L626.20,234.00 L626.70,234.44 L627.20,234.28 L627.70,233.82 L628.20,233.92 L628.70,234.11 L629.20,233.89 L629.70,233.45 L630.20,233.17 L630.70,233.37 L631.20,233.55 L631.70,233.01 L632.20,232.32 L632.70,232.00 L633.20,232.24 L633.70,232.08 L634.20,231.97 L634.70,232.02 L635.20,231.71 L635.70,231.60 L636.20,231.46 L636.70,230.97 L637.20,230.62 L637.70,231.12 L638.20,230.77 L638.70,230.00 L639.20,230.32 L639.70,230.23 L640.20,229.68 L640.70,229.28 L641.20,229.41 L641.70,229.77 L642.20,229.80 L642.70,229.45 L643.20,229.24 L643.70,228.87 L644.20,228.54 L644.70,228.48 L645.20,228.35 L645.70,228.52 L646.20,228.59 L646.70,228.09 L647.20,228.01 L647.70,228.00 L648.20,227.40 L648.70,227.35 L649.20,227.15 L649.70,227.09 L650.20,227.35 L650.70,227.21 L651.20,227.16 L651.70,227.04 L652.20,226.83 L652.70,226.50 L653.20,226.42 L653.70,226.45 L654.20,226.26 L654.70,226.34 L655.20,226.39 L655.70,225.98 L656.20,225.53 L656.70,225.74 L657.20,226.10 L657.70,226.18 L658.20,226.20 L658.70,226.34 L659.20,226.19 L659.70,225.85 L660.20,225.47 L660.70,225.21 L661.20,225.28 L661.70,225.48 L662.20,225.58 L662.70,225.47 L663.20,225.34 L663.70,225.42 L664.20,225.45 L664.70,225.33 L665.20,225.31 L665.70,225.09 L666.20,224.76 L666.70,224.93 L667.20,225.20 L667.70,225.00 L668.20,224.79 L668.70,225.28 L669.20,225.16 L669.70,224.60 L670.20,224.78 L670.70,224.54 L671.20,224.47 L671.70,225.07 L672.20,225.21" fill="none" stroke="#ff3b44" stroke-width="1.25" stroke-linejoin="round" stroke-linecap="round"/>
<path d="M506.70,290.64 L507.20,290.38 L507.70,290.15 L508.20,289.80 L508.70,289.47 L509.20,289.11 L509.70,288.96 L510.20,288.79 L510.70,288.59 L511.20,287.99 L511.70,287.83 L512.20,287.75 L512.70,287.86 L513.20,287.39 L513.70,286.72 L514.20,286.31 L514.70,285.94 L515.20,285.84 L515.70,285.48 L516.20,285.45 L516.70,285.29 L517.20,284.92 L517.70,284.67 L518.20,284.29 L518.70,284.24 L519.20,284.01 L519.70,283.95 L520.20,284.11 L520.70,283.90 L521.20,283.95 L521.70,283.97 L522.20,284.13 L522.70,284.00 L523.20,283.71 L523.70,283.46 L524.20,283.43 L524.70,283.47 L525.20,283.69 L525.70,283.93 L526.20,283.97 L526.70,283.93 L527.20,283.81 L527.70,283.57 L528.20,283.39 L528.70,283.17 L529.20,283.27 L529.70,283.56 L530.20,283.67 L530.70,284.08 L531.20,284.32 L531.70,284.59 L532.20,284.49 L532.70,284.52 L533.20,284.63 L533.70,284.63 L534.20,284.63 L534.70,284.64 L535.20,284.81 L535.70,284.97 L536.20,285.05 L536.70,284.94 L537.20,284.79 L537.70,284.56 L538.20,284.74 L538.70,284.65 L539.20,284.87 L539.70,284.88 L540.20,285.14 L540.70,285.06 L541.20,284.90 L541.70,285.04 L542.20,285.09 L542.70,285.46 L543.20,285.35 L543.70,285.47 L544.20,285.54 L544.70,285.52 L545.20,285.59 L545.70,285.17 L546.20,285.18 L546.70,284.94 L547.20,285.04 L547.70,284.89 L548.20,284.90 L548.70,285.07 L549.20,284.83 L549.70,284.78 L550.20,284.64 L550.70,285.30 L551.20,285.63 L551.70,286.10 L552.20,286.24 L552.70,286.70 L553.20,287.12 L553.70,287.49 L554.20,287.78 L554.70,287.86 L555.20,288.29 L555.70,288.70 L556.20,289.09 L556.70,289.43 L557.20,289.30 L557.70,289.30 L558.20,289.15 L558.70,289.46 L559.20,289.80 L559.70,290.06 L560.20,290.22 L560.70,290.41 L561.20,290.45 L561.70,290.39 L562.20,290.23 L562.70,290.59 L563.20,290.50 L563.70,290.65 L564.20,290.58 L564.70,290.89 L565.20,290.79 L565.70,290.57 L566.20,290.56 L566.70,290.73 L567.20,290.55 L567.70,290.46 L568.20,290.26 L568.70,290.40 L569.20,290.38 L569.70,290.22 L570.20,289.84 L570.70,289.64 L571.20,289.80 L571.70,289.95 L572.20,289.82 L572.70,289.78 L573.20,289.47 L573.70,289.43 L574.20,288.97 L574.70,288.98 L575.20,288.78 L575.70,288.92 L576.20,288.72 L576.70,288.57 L577.20,288.16 L577.70,288.28 L578.20,288.25 L578.70,288.44 L579.20,288.23 L579.70,288.22 L580.20,288.26 L580.70,288.34 L581.20,288.43 L581.70,288.35 L582.20,288.30 L582.70,288.02 L583.20,288.04 L583.70,288.06 L584.20,288.31 L584.70,287.91 L585.20,287.65 L585.70,287.22 L586.20,287.29 L586.70,287.53 L587.20,287.77 L587.70,287.79 L588.20,287.61 L588.70,287.56 L589.20,287.45 L589.70,287.40 L590.20,287.26 L590.70,286.96 L591.20,286.78 L591.70,286.83 L592.20,286.93 L592.70,286.86 L593.20,286.54 L593.70,286.46 L594.20,286.54 L594.70,286.55 L595.20,286.48 L595.70,286.00 L596.20,285.98 L596.70,285.90 L597.20,286.07 L597.70,286.24 L598.20,286.56 L598.70,286.55 L599.20,286.55 L599.70,286.51 L600.20,286.63 L600.70,286.59 L601.20,286.33 L601.70,286.25 L602.20,285.97 L602.70,286.00 L603.20,286.20 L603.70,286.17 L604.20,286.13 L604.70,285.88 L605.20,286.02 L605.70,286.07 L606.20,286.24 L606.70,286.09 L607.20,285.95 L607.70,285.75 L608.20,285.79 L608.70,285.78 L609.20,285.82 L609.70,285.97 L610.20,285.96 L610.70,285.87 L611.20,285.76 L611.70,285.70 L612.20,285.53 L612.70,285.19 L613.20,285.26 L613.70,285.36 L614.20,285.41 L614.70,285.31 L615.20,285.35 L615.70,285.42 L616.20,285.20 L616.70,285.00 L617.20,284.87 L617.70,285.06 L618.20,284.99 L618.70,284.86 L619.20,284.68 L619.70,284.45 L620.20,284.47 L620.70,284.41 L621.20,284.62 L621.70,284.46 L622.20,284.43 L622.70,284.22 L623.20,284.16 L623.70,284.24 L624.20,284.25 L624.70,284.38 L625.20,284.11 L625.70,284.12 L626.20,283.82 L626.70,283.84 L627.20,283.72 L627.70,283.93 L628.20,283.95 L628.70,283.93 L629.20,283.91 L629.70,283.86 L630.20,283.88 L630.70,283.82 L631.20,283.74 L631.70,283.59 L632.20,283.49 L632.70,283.40 L633.20,283.43 L633.70,283.47 L634.20,283.56 L634.70,283.42 L635.20,283.10 L635.70,282.94 L636.20,282.92 L636.70,283.15 L637.20,283.06 L637.70,283.00 L638.20,282.92 L638.70,282.86 L639.20,282.82 L639.70,282.89 L640.20,283.08 L640.70,283.13 L641.20,282.93 L641.70,282.61 L642.20,282.56 L642.70,282.49 L643.20,282.59 L643.70,282.43 L644.20,282.38 L644.70,282.30 L645.20,282.36 L645.70,282.49 L646.20,282.52 L646.70,282.27 L647.20,281.97 L647.70,281.72 L648.20,281.81 L648.70,281.98 L649.20,282.20 L649.70,282.23 L650.20,282.20 L650.70,282.07 L651.20,281.99 L651.70,281.82 L652.20,281.82 L652.70,282.17 L653.20,282.21 L653.70,282.48 L654.20,282.50 L654.70,282.67 L655.20,282.56 L655.70,282.38 L656.20,282.45 L656.70,282.58 L657.20,282.70 L657.70,282.87 L658.20,283.05 L658.70,283.30 L659.20,283.44 L659.70,283.48 L660.20,283.55 L660.70,283.11 L661.20,282.49 L661.70,281.63 L662.20,280.90 L662.70,280.65 L663.20,280.33 L663.70,280.17 L664.20,279.83 L664.70,279.61 L665.20,279.53 L665.70,279.24 L666.20,279.27 L666.70,279.25 L667.20,279.35 L667.70,279.46 L668.20,279.40 L668.70,279.27 L669.20,278.95 L669.70,278.52 L670.20,278.22 L670.70,277.81 L671.20,277.54 L671.70,277.37 L672.20,277.37 L672.70,277.38 L673.20,277.35 L673.70,277.71 L674.20,278.21" fill="none" stroke="#0a97fd" stroke-width="1.15" stroke-linejoin="round" stroke-linecap="round"/>
<path d="M506.70,292.47 L507.20,292.91 L507.70,293.72 L508.20,294.22 L508.70,295.15 L509.20,295.74 L509.70,296.23 L510.20,296.50 L510.70,296.69 L511.20,297.21 L511.70,297.65 L512.20,298.21 L512.70,298.26 L513.20,298.46 L513.70,298.82 L514.20,299.44 L514.70,299.94 L515.20,299.95 L515.70,300.23 L516.20,300.19 L516.70,300.60 L517.20,300.75 L517.70,301.08 L518.20,301.07 L518.70,301.12 L519.20,300.92 L519.70,300.87 L520.20,300.98 L520.70,301.20 L521.20,301.22 L521.70,301.06 L522.20,301.12 L522.70,301.62 L523.20,301.93 L523.70,302.08 L524.20,301.64 L524.70,301.52 L525.20,301.52 L525.70,301.88 L526.20,302.01 L526.70,301.95 L527.20,302.19 L527.70,302.38 L528.20,302.42 L528.70,302.03 L529.20,302.10 L529.70,301.99 L530.20,302.23 L530.70,302.12 L531.20,301.95 L531.70,301.70 L532.20,301.25 L532.70,301.33 L533.20,301.21 L533.70,301.42 L534.20,301.32 L534.70,301.16 L535.20,300.93 L535.70,300.69 L536.20,300.52 L536.70,300.56 L537.20,300.36 L537.70,300.21 L538.20,299.76 L538.70,299.60 L539.20,299.22 L539.70,299.22 L540.20,299.09 L540.70,299.13 L541.20,298.74 L541.70,298.52 L542.20,298.25 L542.70,298.15 L543.20,298.48 L543.70,298.60 L544.20,298.57 L544.70,297.92 L545.20,297.75 L545.70,297.42 L546.20,297.70 L546.70,297.63 L547.20,297.77 L547.70,297.61 L548.20,297.51 L548.70,297.22 L549.20,297.25 L549.70,297.04 L550.20,296.90 L550.70,296.46 L551.20,296.15 L551.70,295.92 L552.20,295.68 L552.70,295.46 L553.20,295.19 L553.70,294.83 L554.20,294.73 L554.70,294.25 L555.20,294.13 L555.70,293.72 L556.20,293.65 L556.70,293.45 L557.20,293.37 L557.70,293.47 L558.20,293.44 L558.70,292.95 L559.20,292.66 L559.70,292.60 L560.20,292.93 L560.70,293.09 L561.20,292.84 L561.70,292.56 L562.20,292.28 L562.70,292.48 L563.20,292.94 L563.70,293.12 L564.20,293.09 L564.70,293.11 L565.20,293.09 L565.70,293.22 L566.20,293.56 L566.70,294.28 L567.20,294.47 L567.70,294.66 L568.20,294.41 L568.70,294.45 L569.20,293.99 L569.70,294.31 L570.20,294.47 L570.70,295.20 L571.20,295.16 L571.70,295.29 L572.20,294.73 L572.70,294.94 L573.20,294.89 L573.70,295.16 L574.20,294.65 L574.70,294.87 L575.20,295.06 L575.70,295.33 L576.20,295.24 L576.70,295.20 L577.20,295.47 L577.70,295.53 L578.20,295.79 L578.70,295.69 L579.20,295.67 L579.70,295.44 L580.20,295.19 L580.70,295.26 L581.20,295.57 L581.70,296.07 L582.20,296.16 L582.70,296.16 L583.20,295.92 L583.70,296.08 L584.20,296.18 L584.70,296.66 L585.20,296.67 L585.70,296.82 L586.20,297.07 L586.70,297.21 L587.20,297.27 L587.70,296.85 L588.20,296.71 L588.70,296.76 L589.20,297.06 L589.70,297.43 L590.20,297.31 L590.70,297.31 L591.20,297.43 L591.70,297.80 L592.20,297.85 L592.70,297.52 L593.20,297.49 L593.70,297.63 L594.20,298.00 L594.70,297.87 L595.20,298.15 L595.70,298.09 L596.20,298.16 L596.70,297.59 L597.20,297.52 L597.70,297.38 L598.20,297.67 L598.70,297.84 L599.20,297.87 L599.70,298.17 L600.20,298.01 L600.70,298.10 L601.20,297.94 L601.70,297.97 L602.20,298.18 L602.70,298.29 L603.20,298.49 L603.70,298.74 L604.20,298.72 L604.70,298.86 L605.20,298.51 L605.70,298.31 L606.20,298.23 L606.70,298.38 L607.20,298.60 L607.70,298.86 L608.20,298.61 L608.70,298.56 L609.20,298.24 L609.70,298.83 L610.20,298.96 L610.70,299.20 L611.20,298.90 L611.70,299.16 L612.20,299.22 L612.70,299.46 L613.20,299.08 L613.70,299.35 L614.20,299.42 L614.70,299.83 L615.20,299.88 L615.70,299.83 L616.20,299.77 L616.70,299.73 L617.20,299.86 L617.70,299.89 L618.20,299.83 L618.70,299.74 L619.20,299.91 L619.70,300.08 L620.20,300.19 L620.70,300.38 L621.20,300.06 L621.70,300.04 L622.20,300.04 L622.70,300.22 L623.20,300.03 L623.70,299.99 L624.20,300.13 L624.70,300.19 L625.20,300.10 L625.70,299.87 L626.20,299.85 L626.70,299.72 L627.20,299.79 L627.70,299.83 L628.20,299.80 L628.70,299.72 L629.20,299.89 L629.70,299.94 L630.20,300.19 L630.70,300.12 L631.20,299.93 L631.70,299.63 L632.20,299.66 L632.70,300.07 L633.20,300.38 L633.70,300.31 L634.20,300.21 L634.70,299.89 L635.20,300.11 L635.70,299.89 L636.20,300.13 L636.70,300.04 L637.20,300.02 L637.70,299.92 L638.20,299.64 L638.70,299.63 L639.20,299.69 L639.70,300.40 L640.20,300.48 L640.70,300.29 L641.20,299.52 L641.70,299.53 L642.20,299.24 L642.70,299.23 L643.20,299.09 L643.70,299.11 L644.20,299.40 L644.70,299.46 L645.20,299.51 L645.70,299.16 L646.20,298.76 L646.70,298.59 L647.20,298.68 L647.70,298.91 L648.20,299.10 L648.70,299.02 L649.20,298.79 L649.70,298.73 L650.20,298.41 L650.70,298.43 L651.20,298.52 L651.70,298.85 L652.20,298.70 L652.70,298.36 L653.20,298.29 L653.70,298.54 L654.20,298.28 L654.70,297.93 L655.20,297.62 L655.70,297.92 L656.20,297.76 L656.70,297.73 L657.20,297.41 L657.70,297.77 L658.20,297.64 L658.70,297.57 L659.20,297.08 L659.70,297.08 L660.20,297.10 L660.70,296.90 L661.20,296.67 L661.70,296.27 L662.20,296.20 L662.70,295.86 L663.20,295.73 L663.70,295.60 L664.20,295.48 L664.70,295.58 L665.20,295.61 L665.70,295.51 L666.20,295.05 L666.70,294.67 L667.20,293.88 L667.70,293.13 L668.20,292.48 L668.70,292.27 L669.20,292.22 L669.70,291.78 L670.20,291.25 L670.70,290.79 L671.20,290.67 L671.70,290.53 L672.20,290.31 L672.70,289.87 L673.20,289.68 L673.70,289.80 L674.20,289.96" fill="none" stroke="#ff3b44" stroke-width="1.15" stroke-linejoin="round" stroke-linecap="round"/>
<line x1="515.2" y1="266.3" x2="527.4" y2="266.3" stroke="#0a97fd" stroke-width="1.3"/>
<text x="530.6" y="270.3" font-size="10.7" text-anchor="start" font-weight="normal" >Rh6G@2PACz@PVA@D-PLA</text>
<line x1="515.2" y1="318.5" x2="527.4" y2="318.5" stroke="#ff3b44" stroke-width="1.3"/>
<text x="530.6" y="322.6" font-size="10.7" text-anchor="start" font-weight="normal" >Rh6G@2PACz@PVA@L-PLA</text>
</svg>
</body></html>
